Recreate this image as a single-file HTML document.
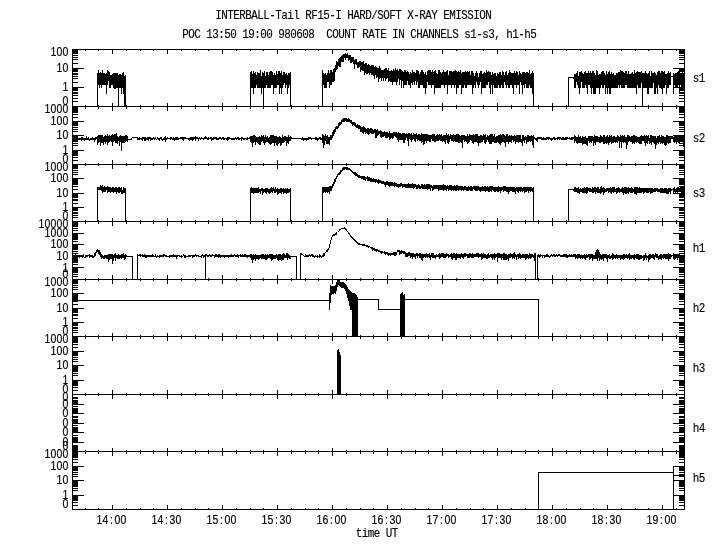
<!DOCTYPE html>
<html lang="en"><head><meta charset="utf-8">
<title>INTERBALL-Tail RF15-I HARD/SOFT X-RAY EMISSION</title>
<style>
html,body{margin:0;padding:0;background:#fff;}
body{width:720px;height:550px;overflow:hidden;}
svg{display:block;}
text{font-family:"Liberation Mono", "DejaVu Sans Mono", monospace;font-size:13.66px;fill:#000;stroke:#000;stroke-width:0.15px;text-anchor:middle;}
text.d{font-family:"Liberation Sans","DejaVu Sans",sans-serif;font-size:13.1px;stroke-width:0.18px;}
.tx{filter:grayscale(1);}
.ln path{fill:none;stroke:#000;stroke-width:1;shape-rendering:crispEdges;stroke-linejoin:miter;}
.fl{fill:#000;stroke:none;shape-rendering:crispEdges;}
</style></head><body>
<svg width="720" height="550" viewBox="0 0 720 550">
<rect x="0" y="0" width="720" height="550" fill="#fff"/>
<g class="ln">
<path d="M72.0 49.5H685.0M72.0 106.5H685.0M72.0 164.5H685.0M72.0 221.5H685.0M72.0 279.5H685.0M72.0 336.5H685.0M72.0 394.5H685.0M72.0 451.5H685.0M72.0 509.5H685.0M72.5 49.0V510.0M684.5 49.0V510.0M112.5 49.0V54.0M167.5 49.0V54.0M222.5 49.0V54.0M277.5 49.0V54.0M332.5 49.0V54.0M387.5 49.0V54.0M442.5 49.0V54.0M497.5 49.0V54.0M552.5 49.0V54.0M607.5 49.0V54.0M662.5 49.0V54.0M85.5 49.0V51.0M98.5 49.0V51.0M126.5 49.0V51.0M140.5 49.0V51.0M153.5 49.0V51.0M181.5 49.0V51.0M195.5 49.0V51.0M208.5 49.0V51.0M236.5 49.0V51.0M250.5 49.0V51.0M263.5 49.0V51.0M291.5 49.0V51.0M305.5 49.0V51.0M318.5 49.0V51.0M346.5 49.0V51.0M360.5 49.0V51.0M373.5 49.0V51.0M401.5 49.0V51.0M415.5 49.0V51.0M428.5 49.0V51.0M456.5 49.0V51.0M470.5 49.0V51.0M483.5 49.0V51.0M511.5 49.0V51.0M525.5 49.0V51.0M538.5 49.0V51.0M566.5 49.0V51.0M580.5 49.0V51.0M593.5 49.0V51.0M621.5 49.0V51.0M635.5 49.0V51.0M648.5 49.0V51.0M676.5 49.0V51.0M112.5 103.0V111.0M167.5 103.0V111.0M222.5 103.0V111.0M277.5 103.0V111.0M332.5 103.0V111.0M387.5 103.0V111.0M442.5 103.0V111.0M497.5 103.0V111.0M552.5 103.0V111.0M607.5 103.0V111.0M662.5 103.0V111.0M85.5 105.0V109.0M98.5 105.0V109.0M126.5 105.0V109.0M140.5 105.0V109.0M153.5 105.0V109.0M181.5 105.0V109.0M195.5 105.0V109.0M208.5 105.0V109.0M236.5 105.0V109.0M250.5 105.0V109.0M263.5 105.0V109.0M291.5 105.0V109.0M305.5 105.0V109.0M318.5 105.0V109.0M346.5 105.0V109.0M360.5 105.0V109.0M373.5 105.0V109.0M401.5 105.0V109.0M415.5 105.0V109.0M428.5 105.0V109.0M456.5 105.0V109.0M470.5 105.0V109.0M483.5 105.0V109.0M511.5 105.0V109.0M525.5 105.0V109.0M538.5 105.0V109.0M566.5 105.0V109.0M580.5 105.0V109.0M593.5 105.0V109.0M621.5 105.0V109.0M635.5 105.0V109.0M648.5 105.0V109.0M676.5 105.0V109.0M112.5 160.0V169.0M167.5 160.0V169.0M222.5 160.0V169.0M277.5 160.0V169.0M332.5 160.0V169.0M387.5 160.0V169.0M442.5 160.0V169.0M497.5 160.0V169.0M552.5 160.0V169.0M607.5 160.0V169.0M662.5 160.0V169.0M85.5 163.0V166.0M98.5 163.0V166.0M126.5 163.0V166.0M140.5 163.0V166.0M153.5 163.0V166.0M181.5 163.0V166.0M195.5 163.0V166.0M208.5 163.0V166.0M236.5 163.0V166.0M250.5 163.0V166.0M263.5 163.0V166.0M291.5 163.0V166.0M305.5 163.0V166.0M318.5 163.0V166.0M346.5 163.0V166.0M360.5 163.0V166.0M373.5 163.0V166.0M401.5 163.0V166.0M415.5 163.0V166.0M428.5 163.0V166.0M456.5 163.0V166.0M470.5 163.0V166.0M483.5 163.0V166.0M511.5 163.0V166.0M525.5 163.0V166.0M538.5 163.0V166.0M566.5 163.0V166.0M580.5 163.0V166.0M593.5 163.0V166.0M621.5 163.0V166.0M635.5 163.0V166.0M648.5 163.0V166.0M676.5 163.0V166.0M112.5 218.0V226.0M167.5 218.0V226.0M222.5 218.0V226.0M277.5 218.0V226.0M332.5 218.0V226.0M387.5 218.0V226.0M442.5 218.0V226.0M497.5 218.0V226.0M552.5 218.0V226.0M607.5 218.0V226.0M662.5 218.0V226.0M85.5 220.0V224.0M98.5 220.0V224.0M126.5 220.0V224.0M140.5 220.0V224.0M153.5 220.0V224.0M181.5 220.0V224.0M195.5 220.0V224.0M208.5 220.0V224.0M236.5 220.0V224.0M250.5 220.0V224.0M263.5 220.0V224.0M291.5 220.0V224.0M305.5 220.0V224.0M318.5 220.0V224.0M346.5 220.0V224.0M360.5 220.0V224.0M373.5 220.0V224.0M401.5 220.0V224.0M415.5 220.0V224.0M428.5 220.0V224.0M456.5 220.0V224.0M470.5 220.0V224.0M483.5 220.0V224.0M511.5 220.0V224.0M525.5 220.0V224.0M538.5 220.0V224.0M566.5 220.0V224.0M580.5 220.0V224.0M593.5 220.0V224.0M621.5 220.0V224.0M635.5 220.0V224.0M648.5 220.0V224.0M676.5 220.0V224.0M112.5 275.0V284.0M167.5 275.0V284.0M222.5 275.0V284.0M277.5 275.0V284.0M332.5 275.0V284.0M387.5 275.0V284.0M442.5 275.0V284.0M497.5 275.0V284.0M552.5 275.0V284.0M607.5 275.0V284.0M662.5 275.0V284.0M85.5 278.0V281.0M98.5 278.0V281.0M126.5 278.0V281.0M140.5 278.0V281.0M153.5 278.0V281.0M181.5 278.0V281.0M195.5 278.0V281.0M208.5 278.0V281.0M236.5 278.0V281.0M250.5 278.0V281.0M263.5 278.0V281.0M291.5 278.0V281.0M305.5 278.0V281.0M318.5 278.0V281.0M346.5 278.0V281.0M360.5 278.0V281.0M373.5 278.0V281.0M401.5 278.0V281.0M415.5 278.0V281.0M428.5 278.0V281.0M456.5 278.0V281.0M470.5 278.0V281.0M483.5 278.0V281.0M511.5 278.0V281.0M525.5 278.0V281.0M538.5 278.0V281.0M566.5 278.0V281.0M580.5 278.0V281.0M593.5 278.0V281.0M621.5 278.0V281.0M635.5 278.0V281.0M648.5 278.0V281.0M676.5 278.0V281.0M112.5 333.0V341.0M167.5 333.0V341.0M222.5 333.0V341.0M277.5 333.0V341.0M332.5 333.0V341.0M387.5 333.0V341.0M442.5 333.0V341.0M497.5 333.0V341.0M552.5 333.0V341.0M607.5 333.0V341.0M662.5 333.0V341.0M85.5 335.0V339.0M98.5 335.0V339.0M126.5 335.0V339.0M140.5 335.0V339.0M153.5 335.0V339.0M181.5 335.0V339.0M195.5 335.0V339.0M208.5 335.0V339.0M236.5 335.0V339.0M250.5 335.0V339.0M263.5 335.0V339.0M291.5 335.0V339.0M305.5 335.0V339.0M318.5 335.0V339.0M346.5 335.0V339.0M360.5 335.0V339.0M373.5 335.0V339.0M401.5 335.0V339.0M415.5 335.0V339.0M428.5 335.0V339.0M456.5 335.0V339.0M470.5 335.0V339.0M483.5 335.0V339.0M511.5 335.0V339.0M525.5 335.0V339.0M538.5 335.0V339.0M566.5 335.0V339.0M580.5 335.0V339.0M593.5 335.0V339.0M621.5 335.0V339.0M635.5 335.0V339.0M648.5 335.0V339.0M676.5 335.0V339.0M112.5 390.0V399.0M167.5 390.0V399.0M222.5 390.0V399.0M277.5 390.0V399.0M332.5 390.0V399.0M387.5 390.0V399.0M442.5 390.0V399.0M497.5 390.0V399.0M552.5 390.0V399.0M607.5 390.0V399.0M662.5 390.0V399.0M85.5 393.0V396.0M98.5 393.0V396.0M126.5 393.0V396.0M140.5 393.0V396.0M153.5 393.0V396.0M181.5 393.0V396.0M195.5 393.0V396.0M208.5 393.0V396.0M236.5 393.0V396.0M250.5 393.0V396.0M263.5 393.0V396.0M291.5 393.0V396.0M305.5 393.0V396.0M318.5 393.0V396.0M346.5 393.0V396.0M360.5 393.0V396.0M373.5 393.0V396.0M401.5 393.0V396.0M415.5 393.0V396.0M428.5 393.0V396.0M456.5 393.0V396.0M470.5 393.0V396.0M483.5 393.0V396.0M511.5 393.0V396.0M525.5 393.0V396.0M538.5 393.0V396.0M566.5 393.0V396.0M580.5 393.0V396.0M593.5 393.0V396.0M621.5 393.0V396.0M635.5 393.0V396.0M648.5 393.0V396.0M676.5 393.0V396.0M112.5 448.0V456.0M167.5 448.0V456.0M222.5 448.0V456.0M277.5 448.0V456.0M332.5 448.0V456.0M387.5 448.0V456.0M442.5 448.0V456.0M497.5 448.0V456.0M552.5 448.0V456.0M607.5 448.0V456.0M662.5 448.0V456.0M85.5 450.0V454.0M98.5 450.0V454.0M126.5 450.0V454.0M140.5 450.0V454.0M153.5 450.0V454.0M181.5 450.0V454.0M195.5 450.0V454.0M208.5 450.0V454.0M236.5 450.0V454.0M250.5 450.0V454.0M263.5 450.0V454.0M291.5 450.0V454.0M305.5 450.0V454.0M318.5 450.0V454.0M346.5 450.0V454.0M360.5 450.0V454.0M373.5 450.0V454.0M401.5 450.0V454.0M415.5 450.0V454.0M428.5 450.0V454.0M456.5 450.0V454.0M470.5 450.0V454.0M483.5 450.0V454.0M511.5 450.0V454.0M525.5 450.0V454.0M538.5 450.0V454.0M566.5 450.0V454.0M580.5 450.0V454.0M593.5 450.0V454.0M621.5 450.0V454.0M635.5 450.0V454.0M648.5 450.0V454.0M676.5 450.0V454.0M112.5 505.0V510.0M167.5 505.0V510.0M222.5 505.0V510.0M277.5 505.0V510.0M332.5 505.0V510.0M387.5 505.0V510.0M442.5 505.0V510.0M497.5 505.0V510.0M552.5 505.0V510.0M607.5 505.0V510.0M662.5 505.0V510.0M85.5 508.0V510.0M98.5 508.0V510.0M126.5 508.0V510.0M140.5 508.0V510.0M153.5 508.0V510.0M181.5 508.0V510.0M195.5 508.0V510.0M208.5 508.0V510.0M236.5 508.0V510.0M250.5 508.0V510.0M263.5 508.0V510.0M291.5 508.0V510.0M305.5 508.0V510.0M318.5 508.0V510.0M346.5 508.0V510.0M360.5 508.0V510.0M373.5 508.0V510.0M401.5 508.0V510.0M415.5 508.0V510.0M428.5 508.0V510.0M456.5 508.0V510.0M470.5 508.0V510.0M483.5 508.0V510.0M511.5 508.0V510.0M525.5 508.0V510.0M538.5 508.0V510.0M566.5 508.0V510.0M580.5 508.0V510.0M593.5 508.0V510.0M621.5 508.0V510.0M635.5 508.0V510.0M648.5 508.0V510.0M676.5 508.0V510.0M72.5 101.5H78.0M684.5 101.5H679.0M72.5 98.5H78.0M684.5 98.5H679.0M72.5 95.5H78.0M684.5 95.5H679.0M72.5 93.5H78.0M684.5 93.5H679.0M72.5 92.5H78.0M684.5 92.5H679.0M72.5 90.5H78.0M684.5 90.5H679.0M72.5 89.5H78.0M684.5 89.5H679.0M72.5 88.5H78.0M684.5 88.5H679.0M72.5 87.5H84.0M684.5 87.5H673.0M72.5 82.5H78.0M684.5 82.5H679.0M72.5 78.5H78.0M684.5 78.5H679.0M72.5 76.5H78.0M684.5 76.5H679.0M72.5 74.5H78.0M684.5 74.5H679.0M72.5 73.5H78.0M684.5 73.5H679.0M72.5 71.5H78.0M684.5 71.5H679.0M72.5 70.5H78.0M684.5 70.5H679.0M72.5 69.5H78.0M684.5 69.5H679.0M72.5 68.5H84.0M684.5 68.5H673.0M72.5 63.5H78.0M684.5 63.5H679.0M72.5 59.5H78.0M684.5 59.5H679.0M72.5 57.5H78.0M684.5 57.5H679.0M72.5 55.5H78.0M684.5 55.5H679.0M72.5 53.5H78.0M684.5 53.5H679.0M72.5 52.5H78.0M684.5 52.5H679.0M72.5 51.5H78.0M684.5 51.5H679.0M72.5 50.5H78.0M684.5 50.5H679.0M72.5 160.5H78.0M684.5 160.5H679.0M72.5 157.5H78.0M684.5 157.5H679.0M72.5 155.5H78.0M684.5 155.5H679.0M72.5 154.5H78.0M684.5 154.5H679.0M72.5 153.5H78.0M684.5 153.5H679.0M72.5 152.5H78.0M684.5 152.5H679.0M72.5 151.5H78.0M684.5 151.5H679.0M72.5 150.5H78.0M684.5 150.5H679.0M72.5 150.5H84.0M684.5 150.5H673.0M72.5 145.5H78.0M684.5 145.5H679.0M72.5 143.5H78.0M684.5 143.5H679.0M72.5 141.5H78.0M684.5 141.5H679.0M72.5 140.5H78.0M684.5 140.5H679.0M72.5 139.5H78.0M684.5 139.5H679.0M72.5 138.5H78.0M684.5 138.5H679.0M72.5 137.5H78.0M684.5 137.5H679.0M72.5 136.5H78.0M684.5 136.5H679.0M72.5 135.5H84.0M684.5 135.5H673.0M72.5 131.5H78.0M684.5 131.5H679.0M72.5 129.5H78.0M684.5 129.5H679.0M72.5 127.5H78.0M684.5 127.5H679.0M72.5 125.5H78.0M684.5 125.5H679.0M72.5 124.5H78.0M684.5 124.5H679.0M72.5 123.5H78.0M684.5 123.5H679.0M72.5 122.5H78.0M684.5 122.5H679.0M72.5 122.5H78.0M684.5 122.5H679.0M72.5 121.5H84.0M684.5 121.5H673.0M72.5 117.5H78.0M684.5 117.5H679.0M72.5 114.5H78.0M684.5 114.5H679.0M72.5 112.5H78.0M684.5 112.5H679.0M72.5 111.5H78.0M684.5 111.5H679.0M72.5 110.5H78.0M684.5 110.5H679.0M72.5 109.5H78.0M684.5 109.5H679.0M72.5 108.5H78.0M684.5 108.5H679.0M72.5 107.5H78.0M684.5 107.5H679.0M72.5 217.5H78.0M684.5 217.5H679.0M72.5 215.5H78.0M684.5 215.5H679.0M72.5 213.5H78.0M684.5 213.5H679.0M72.5 212.5H78.0M684.5 212.5H679.0M72.5 210.5H78.0M684.5 210.5H679.0M72.5 210.5H78.0M684.5 210.5H679.0M72.5 209.5H78.0M684.5 209.5H679.0M72.5 208.5H78.0M684.5 208.5H679.0M72.5 207.5H84.0M684.5 207.5H673.0M72.5 203.5H78.0M684.5 203.5H679.0M72.5 200.5H78.0M684.5 200.5H679.0M72.5 199.5H78.0M684.5 199.5H679.0M72.5 197.5H78.0M684.5 197.5H679.0M72.5 196.5H78.0M684.5 196.5H679.0M72.5 195.5H78.0M684.5 195.5H679.0M72.5 194.5H78.0M684.5 194.5H679.0M72.5 194.5H78.0M684.5 194.5H679.0M72.5 193.5H84.0M684.5 193.5H673.0M72.5 189.5H78.0M684.5 189.5H679.0M72.5 186.5H78.0M684.5 186.5H679.0M72.5 184.5H78.0M684.5 184.5H679.0M72.5 183.5H78.0M684.5 183.5H679.0M72.5 182.5H78.0M684.5 182.5H679.0M72.5 181.5H78.0M684.5 181.5H679.0M72.5 180.5H78.0M684.5 180.5H679.0M72.5 179.5H78.0M684.5 179.5H679.0M72.5 178.5H84.0M684.5 178.5H673.0M72.5 174.5H78.0M684.5 174.5H679.0M72.5 172.5H78.0M684.5 172.5H679.0M72.5 170.5H78.0M684.5 170.5H679.0M72.5 168.5H78.0M684.5 168.5H679.0M72.5 167.5H78.0M684.5 167.5H679.0M72.5 166.5H78.0M684.5 166.5H679.0M72.5 166.5H78.0M684.5 166.5H679.0M72.5 165.5H78.0M684.5 165.5H679.0M72.5 276.5H78.0M684.5 276.5H679.0M72.5 274.5H78.0M684.5 274.5H679.0M72.5 272.5H78.0M684.5 272.5H679.0M72.5 271.5H78.0M684.5 271.5H679.0M72.5 270.5H78.0M684.5 270.5H679.0M72.5 269.5H78.0M684.5 269.5H679.0M72.5 269.5H78.0M684.5 269.5H679.0M72.5 268.5H78.0M684.5 268.5H679.0M72.5 267.5H84.0M684.5 267.5H673.0M72.5 264.5H78.0M684.5 264.5H679.0M72.5 262.5H78.0M684.5 262.5H679.0M72.5 261.5H78.0M684.5 261.5H679.0M72.5 260.5H78.0M684.5 260.5H679.0M72.5 259.5H78.0M684.5 259.5H679.0M72.5 258.5H78.0M684.5 258.5H679.0M72.5 257.5H78.0M684.5 257.5H679.0M72.5 257.5H78.0M684.5 257.5H679.0M72.5 256.5H84.0M684.5 256.5H673.0M72.5 253.5H78.0M684.5 253.5H679.0M72.5 251.5H78.0M684.5 251.5H679.0M72.5 249.5H78.0M684.5 249.5H679.0M72.5 248.5H78.0M684.5 248.5H679.0M72.5 247.5H78.0M684.5 247.5H679.0M72.5 246.5H78.0M684.5 246.5H679.0M72.5 246.5H78.0M684.5 246.5H679.0M72.5 245.5H78.0M684.5 245.5H679.0M72.5 244.5H84.0M684.5 244.5H673.0M72.5 241.5H78.0M684.5 241.5H679.0M72.5 239.5H78.0M684.5 239.5H679.0M72.5 238.5H78.0M684.5 238.5H679.0M72.5 237.5H78.0M684.5 237.5H679.0M72.5 236.5H78.0M684.5 236.5H679.0M72.5 235.5H78.0M684.5 235.5H679.0M72.5 234.5H78.0M684.5 234.5H679.0M72.5 234.5H78.0M684.5 234.5H679.0M72.5 233.5H84.0M684.5 233.5H673.0M72.5 230.5H78.0M684.5 230.5H679.0M72.5 228.5H78.0M684.5 228.5H679.0M72.5 226.5H78.0M684.5 226.5H679.0M72.5 225.5H78.0M684.5 225.5H679.0M72.5 224.5H78.0M684.5 224.5H679.0M72.5 223.5H78.0M684.5 223.5H679.0M72.5 223.5H78.0M684.5 223.5H679.0M72.5 222.5H78.0M684.5 222.5H679.0M72.5 332.5H78.0M684.5 332.5H679.0M72.5 330.5H78.0M684.5 330.5H679.0M72.5 328.5H78.0M684.5 328.5H679.0M72.5 327.5H78.0M684.5 327.5H679.0M72.5 325.5H78.0M684.5 325.5H679.0M72.5 325.5H78.0M684.5 325.5H679.0M72.5 324.5H78.0M684.5 324.5H679.0M72.5 323.5H78.0M684.5 323.5H679.0M72.5 322.5H84.0M684.5 322.5H673.0M72.5 318.5H78.0M684.5 318.5H679.0M72.5 315.5H78.0M684.5 315.5H679.0M72.5 314.5H78.0M684.5 314.5H679.0M72.5 312.5H78.0M684.5 312.5H679.0M72.5 311.5H78.0M684.5 311.5H679.0M72.5 310.5H78.0M684.5 310.5H679.0M72.5 309.5H78.0M684.5 309.5H679.0M72.5 309.5H78.0M684.5 309.5H679.0M72.5 308.5H84.0M684.5 308.5H673.0M72.5 304.5H78.0M684.5 304.5H679.0M72.5 301.5H78.0M684.5 301.5H679.0M72.5 299.5H78.0M684.5 299.5H679.0M72.5 298.5H78.0M684.5 298.5H679.0M72.5 297.5H78.0M684.5 297.5H679.0M72.5 296.5H78.0M684.5 296.5H679.0M72.5 295.5H78.0M684.5 295.5H679.0M72.5 294.5H78.0M684.5 294.5H679.0M72.5 293.5H84.0M684.5 293.5H673.0M72.5 289.5H78.0M684.5 289.5H679.0M72.5 287.5H78.0M684.5 287.5H679.0M72.5 285.5H78.0M684.5 285.5H679.0M72.5 283.5H78.0M684.5 283.5H679.0M72.5 282.5H78.0M684.5 282.5H679.0M72.5 281.5H78.0M684.5 281.5H679.0M72.5 281.5H78.0M684.5 281.5H679.0M72.5 280.5H78.0M684.5 280.5H679.0M72.5 390.5H78.0M684.5 390.5H679.0M72.5 387.5H78.0M684.5 387.5H679.0M72.5 385.5H78.0M684.5 385.5H679.0M72.5 384.5H78.0M684.5 384.5H679.0M72.5 383.5H78.0M684.5 383.5H679.0M72.5 382.5H78.0M684.5 382.5H679.0M72.5 381.5H78.0M684.5 381.5H679.0M72.5 380.5H78.0M684.5 380.5H679.0M72.5 380.5H84.0M684.5 380.5H673.0M72.5 375.5H78.0M684.5 375.5H679.0M72.5 373.5H78.0M684.5 373.5H679.0M72.5 371.5H78.0M684.5 371.5H679.0M72.5 370.5H78.0M684.5 370.5H679.0M72.5 369.5H78.0M684.5 369.5H679.0M72.5 368.5H78.0M684.5 368.5H679.0M72.5 367.5H78.0M684.5 367.5H679.0M72.5 366.5H78.0M684.5 366.5H679.0M72.5 365.5H84.0M684.5 365.5H673.0M72.5 361.5H78.0M684.5 361.5H679.0M72.5 359.5H78.0M684.5 359.5H679.0M72.5 357.5H78.0M684.5 357.5H679.0M72.5 355.5H78.0M684.5 355.5H679.0M72.5 354.5H78.0M684.5 354.5H679.0M72.5 353.5H78.0M684.5 353.5H679.0M72.5 352.5H78.0M684.5 352.5H679.0M72.5 352.5H78.0M684.5 352.5H679.0M72.5 351.5H84.0M684.5 351.5H673.0M72.5 347.5H78.0M684.5 347.5H679.0M72.5 344.5H78.0M684.5 344.5H679.0M72.5 342.5H78.0M684.5 342.5H679.0M72.5 341.5H78.0M684.5 341.5H679.0M72.5 340.5H78.0M684.5 340.5H679.0M72.5 339.5H78.0M684.5 339.5H679.0M72.5 338.5H78.0M684.5 338.5H679.0M72.5 337.5H78.0M684.5 337.5H679.0M72.5 445.5H78.0M684.5 445.5H679.0M72.5 446.5H78.0M684.5 446.5H679.0M72.5 447.5H78.0M684.5 447.5H679.0M72.5 448.5H78.0M684.5 448.5H679.0M72.5 449.5H78.0M684.5 449.5H679.0M72.5 450.5H78.0M684.5 450.5H679.0M72.5 450.5H78.0M684.5 450.5H679.0M72.5 451.5H78.0M684.5 451.5H679.0M72.5 442.5H84.0M684.5 442.5H673.0M72.5 435.5H78.0M684.5 435.5H679.0M72.5 437.5H78.0M684.5 437.5H679.0M72.5 438.5H78.0M684.5 438.5H679.0M72.5 439.5H78.0M684.5 439.5H679.0M72.5 440.5H78.0M684.5 440.5H679.0M72.5 440.5H78.0M684.5 440.5H679.0M72.5 441.5H78.0M684.5 441.5H679.0M72.5 441.5H78.0M684.5 441.5H679.0M72.5 432.5H84.0M684.5 432.5H673.0M72.5 425.5H78.0M684.5 425.5H679.0M72.5 427.5H78.0M684.5 427.5H679.0M72.5 428.5H78.0M684.5 428.5H679.0M72.5 429.5H78.0M684.5 429.5H679.0M72.5 430.5H78.0M684.5 430.5H679.0M72.5 431.5H78.0M684.5 431.5H679.0M72.5 431.5H78.0M684.5 431.5H679.0M72.5 432.5H78.0M684.5 432.5H679.0M72.5 423.5H84.0M684.5 423.5H673.0M72.5 416.5H78.0M684.5 416.5H679.0M72.5 417.5H78.0M684.5 417.5H679.0M72.5 419.5H78.0M684.5 419.5H679.0M72.5 420.5H78.0M684.5 420.5H679.0M72.5 420.5H78.0M684.5 420.5H679.0M72.5 421.5H78.0M684.5 421.5H679.0M72.5 422.5H78.0M684.5 422.5H679.0M72.5 422.5H78.0M684.5 422.5H679.0M72.5 413.5H84.0M684.5 413.5H673.0M72.5 406.5H78.0M684.5 406.5H679.0M72.5 408.5H78.0M684.5 408.5H679.0M72.5 409.5H78.0M684.5 409.5H679.0M72.5 410.5H78.0M684.5 410.5H679.0M72.5 411.5H78.0M684.5 411.5H679.0M72.5 411.5H78.0M684.5 411.5H679.0M72.5 412.5H78.0M684.5 412.5H679.0M72.5 412.5H78.0M684.5 412.5H679.0M72.5 404.5H84.0M684.5 404.5H673.0M72.5 397.5H78.0M684.5 397.5H679.0M72.5 398.5H78.0M684.5 398.5H679.0M72.5 400.5H78.0M684.5 400.5H679.0M72.5 400.5H78.0M684.5 400.5H679.0M72.5 401.5H78.0M684.5 401.5H679.0M72.5 402.5H78.0M684.5 402.5H679.0M72.5 402.5H78.0M684.5 402.5H679.0M72.5 403.5H78.0M684.5 403.5H679.0M72.5 505.5H78.0M684.5 505.5H679.0M72.5 502.5H78.0M684.5 502.5H679.0M72.5 500.5H78.0M684.5 500.5H679.0M72.5 499.5H78.0M684.5 499.5H679.0M72.5 498.5H78.0M684.5 498.5H679.0M72.5 497.5H78.0M684.5 497.5H679.0M72.5 496.5H78.0M684.5 496.5H679.0M72.5 495.5H78.0M684.5 495.5H679.0M72.5 495.5H84.0M684.5 495.5H673.0M72.5 490.5H78.0M684.5 490.5H679.0M72.5 488.5H78.0M684.5 488.5H679.0M72.5 486.5H78.0M684.5 486.5H679.0M72.5 485.5H78.0M684.5 485.5H679.0M72.5 484.5H78.0M684.5 484.5H679.0M72.5 483.5H78.0M684.5 483.5H679.0M72.5 482.5H78.0M684.5 482.5H679.0M72.5 481.5H78.0M684.5 481.5H679.0M72.5 480.5H84.0M684.5 480.5H673.0M72.5 476.5H78.0M684.5 476.5H679.0M72.5 474.5H78.0M684.5 474.5H679.0M72.5 472.5H78.0M684.5 472.5H679.0M72.5 470.5H78.0M684.5 470.5H679.0M72.5 469.5H78.0M684.5 469.5H679.0M72.5 468.5H78.0M684.5 468.5H679.0M72.5 467.5H78.0M684.5 467.5H679.0M72.5 467.5H78.0M684.5 467.5H679.0M72.5 466.5H84.0M684.5 466.5H673.0M72.5 462.5H78.0M684.5 462.5H679.0M72.5 459.5H78.0M684.5 459.5H679.0M72.5 457.5H78.0M684.5 457.5H679.0M72.5 456.5H78.0M684.5 456.5H679.0M72.5 455.5H78.0M684.5 455.5H679.0M72.5 454.5H78.0M684.5 454.5H679.0M72.5 453.5H78.0M684.5 453.5H679.0M72.5 452.5H78.0M684.5 452.5H679.0"/>
<path d="M73.5 106.5L74.5 106.5L75.5 106.5L76.5 106.5L77.5 106.5L78.5 106.5L79.5 106.5L80.5 106.5L81.5 106.5L82.5 106.5L83.5 106.5L84.5 106.5L85.5 106.5L86.5 106.5L87.5 106.5L88.5 106.5L89.5 106.5L90.5 106.5L91.5 106.5L92.5 106.5L93.5 106.5L94.5 106.5L95.5 106.5L96.5 106.5L97.5 106.5V72.5V106.5V80.5L98.5 74V70V84.5V82L99.5 77.5V73V88V80.5L100.5 77.5V71.5V84.5L101.5 74.5V73V88V75.5L102.5 70V84.5V80.5L103.5 80.5V73V84.5V82L104.5 76.5V73V84.5V79L105.5 75.5V74V84.5V74L106.5 76.5V72.5V93.5L107.5 76.5V70V84.5V70L108.5 72V80.5V79L109.5 72V88V80.5L110.5 79V74.5V88V80.5L111.5 79V74.5V84.5V79L112.5 74V84.5V75.5L113.5 82V72.5V88V77.5L114.5 79V72.5V88L115.5 88V72.5V88V77.5L116.5 88V72.5V88V82L117.5 88V73V88V76.5L118.5 79V74.5V106.5V79L119.5 77.5V74V88V82L120.5 77.5V74V88V74.5L121.5 80.5V74.5V93.5V80.5L122.5 77.5V72.5V88V77.5L123.5 77.5V71.5V93.5L124.5 88V75.5V106.5V84.5L125.5 80.5V74.5V106.5L126.5 106.5L127.5 106.5L128.5 106.5L129.5 106.5L130.5 106.5L131.5 106.5L132.5 106.5L133.5 106.5L134.5 106.5L135.5 106.5L136.5 106.5L137.5 106.5L138.5 106.5L139.5 106.5L140.5 106.5L141.5 106.5L142.5 106.5L143.5 106.5L144.5 106.5L145.5 106.5L146.5 106.5L147.5 106.5L148.5 106.5L149.5 106.5L150.5 106.5L151.5 106.5L152.5 106.5L153.5 106.5L154.5 106.5L155.5 106.5L156.5 106.5L157.5 106.5L158.5 106.5L159.5 106.5L160.5 106.5L161.5 106.5L162.5 106.5L163.5 106.5L164.5 106.5L165.5 106.5L166.5 106.5L167.5 106.5L168.5 106.5L169.5 106.5L170.5 106.5L171.5 106.5L172.5 106.5L173.5 106.5L174.5 106.5L175.5 106.5L176.5 106.5L177.5 106.5L178.5 106.5L179.5 106.5L180.5 106.5L181.5 106.5L182.5 106.5L183.5 106.5L184.5 106.5L185.5 106.5L186.5 106.5L187.5 106.5L188.5 106.5L189.5 106.5L190.5 106.5L191.5 106.5L192.5 106.5L193.5 106.5L194.5 106.5L195.5 106.5L196.5 106.5L197.5 106.5L198.5 106.5L199.5 106.5L200.5 106.5L201.5 106.5L202.5 106.5L203.5 106.5L204.5 106.5L205.5 106.5L206.5 106.5L207.5 106.5L208.5 106.5L209.5 106.5L210.5 106.5L211.5 106.5L212.5 106.5L213.5 106.5L214.5 106.5L215.5 106.5L216.5 106.5L217.5 106.5L218.5 106.5L219.5 106.5L220.5 106.5L221.5 106.5L222.5 106.5L223.5 106.5L224.5 106.5L225.5 106.5L226.5 106.5L227.5 106.5L228.5 106.5L229.5 106.5L230.5 106.5L231.5 106.5L232.5 106.5L233.5 106.5L234.5 106.5L235.5 106.5L236.5 106.5L237.5 106.5L238.5 106.5L239.5 106.5L240.5 106.5L241.5 106.5L242.5 106.5L243.5 106.5L244.5 106.5L245.5 106.5L246.5 106.5L247.5 106.5L248.5 106.5L249.5 106.5L250.5 106.5V71.5V106.5V79L251.5 84.5V70.5V88V77.5L252.5 76.5V74V88V79L253.5 93.5V70.5V93.5V84.5L254.5 88V73V88V80.5L255.5 73V72V88V79L256.5 82V74.5V84.5V76.5L257.5 84.5V71.5V88V72.5L258.5 88V72.5V88V79L259.5 77.5V72.5V88V82L260.5 76.5V70.5V88V70.5L261.5 84.5V75.5V93.5V79L262.5 88V72V88V74L263.5 74V72.5V106.5V84.5L264.5 80.5V70.5V88V79L265.5 76.5V75.5V88V84.5L266.5 72V84.5V77.5L267.5 79V71.5V88V77.5L268.5 79V74.5V88V82L269.5 74V72V88V82L270.5 77.5V70.5V88V80.5L271.5 80.5V70.5V84.5V82L272.5 74.5V71.5V84.5V80.5L273.5 79V74.5V93.5V77.5L274.5 79V72.5V88V79L275.5 82V74.5V88V75.5L276.5 77.5V70.5V88L277.5 74.5V84.5V77.5L278.5 76.5V70.5V84.5V77.5L279.5 73V70.5V93.5V77.5L280.5 84.5V73V88V76.5L281.5 75.5V70.5V93.5V84.5L282.5 75.5V74.5V88V76.5L283.5 74.5V71.5V84.5L284.5 80.5V72V82V72.5L285.5 84.5V74V88L286.5 75.5V72.5V84.5L287.5 79V74.5V93.5V88L288.5 82V73V88V77.5L289.5 77.5V72.5V84.5V80.5L290.5 75.5V72V106.5L291.5 106.5L292.5 106.5L293.5 106.5L294.5 106.5L295.5 106.5L296.5 106.5L297.5 106.5L298.5 106.5L299.5 106.5L300.5 106.5L301.5 106.5L302.5 106.5L303.5 106.5L304.5 106.5L305.5 106.5L306.5 106.5L307.5 106.5L308.5 106.5L309.5 106.5L310.5 106.5L311.5 106.5L312.5 106.5L313.5 106.5L314.5 106.5L315.5 106.5L316.5 106.5L317.5 106.5L318.5 106.5L319.5 106.5L320.5 106.5L321.5 106.5L322.5 106.5V70V106.5V88L323.5 82V72.5V84.5V79L324.5 80.5V74V88V79L325.5 82V73V88V76.5L326.5 76.5V74.5V88V82L327.5 77.5V72.5V82V79L328.5 80.5V70V82V72L329.5 74.5V73V88V75.5L330.5 74.5V70V84.5V79L331.5 79V70V84.5V75.5L332.5 79V72V82V72.5L333.5 72.5V69V82V79L334.5 80.5V67.5V80.5V74.5L335.5 66.5V64.5V71.5V69L336.5 64V62V70V62L337.5 62.5V62V69V65L338.5 64V59.5V65.5V59.5L339.5 60.5V58V66.5V61L340.5 66.5V56.5V66.5V58.5L341.5 59.5V55.5V61.5V58.5L342.5 56V54.5V61.5V60.5L343.5 55.5V53.5V62V56.5L344.5 54.5V54V58V55L345.5 53.5V53V59.5V54L346.5 55V54V57.5V55L347.5 56V53V57.5V54L348.5 56V54.5V60.5V56L349.5 56V55V59.5V56.5L350.5 57.5V55V62.5V59L351.5 58V56.5V63V57.5L352.5 58.5V56.5V61.5V58L353.5 58.5V57V63.5V57L354.5 64.5V59.5V69V60.5L355.5 60V58.5V64V63.5L356.5 64V59V65V62.5L357.5 64V61.5V68V65.5L358.5 62.5V61.5V67.5V62.5L359.5 66V60.5V66.5V64L360.5 65.5V61V71.5V64L361.5 64.5V61.5V70V68.5L362.5 65V62.5V70.5V62.5L363.5 62V70L364.5 71.5V64V74.5V68.5L365.5 69V63V73V68.5L366.5 66.5V63V74V63L367.5 67.5V65.5V74V66.5L368.5 72V63.5V73V70.5L369.5 66.5V65V74.5L370.5 70V66V72.5V68L371.5 72.5V64.5V74.5V68L372.5 67.5V65V74.5V69L373.5 72.5V65V75.5V70L374.5 69V66.5V79V72L375.5 67V65.5V74.5V68L376.5 69V67V77.5V75.5L377.5 72V68V76.5V68L378.5 70.5V67.5V82V72.5L379.5 79V66V79V70L380.5 70V68V77.5L381.5 72V69.5V80.5V77.5L382.5 74V69.5V77.5V74.5L383.5 80.5V69.5V80.5V75.5L384.5 74.5V69V77.5V70L385.5 74.5V68V80.5V72L386.5 79V67.5V79L387.5 72V70V77.5V75.5L388.5 72.5V67.5V82V79L389.5 72.5V70.5V80.5V74L390.5 76.5V70.5V82V75.5L391.5 76.5V70V82L392.5 73V70.5V84.5V71.5L393.5 82V69V82V72L394.5 74.5V70V82V70L395.5 75.5V68V82V74.5L396.5 76.5V69.5V84.5V70L397.5 79V69V82V70L398.5 76.5V70.5V79V74.5L399.5 72V68.5V84.5V70.5L400.5 73V69V79L401.5 80.5V70V88V75.5L402.5 77.5V70.5V80.5V74L403.5 80.5V71.5V88V74.5L404.5 73V69.5V84.5V79L405.5 70V84.5V73L406.5 72.5V84.5V75.5L407.5 71.5V80.5L408.5 72V84.5L409.5 77.5V74.5V84.5V74.5L410.5 76.5V71.5V88V72L411.5 77.5V73V82V80.5L412.5 84.5V70V84.5V77.5L413.5 77.5V71.5V82V72.5L414.5 82V72V84.5V82L415.5 75.5V72.5V80.5V75.5L416.5 74V70V84.5V74L417.5 76.5V70V82V70.5L418.5 76.5V70.5V88V80.5L419.5 80.5V74V88V74.5L420.5 74V72V84.5L421.5 79V70V84.5L422.5 84.5V70V84.5V77.5L423.5 79V71.5V88V75.5L424.5 74.5V88V77.5L425.5 82V72V93.5V84.5L426.5 76.5V74.5V88V80.5L427.5 75.5V70.5V82V80.5L428.5 70V84.5V76.5L429.5 70V84.5V75.5L430.5 80.5V70V84.5L431.5 72V88L432.5 77.5V70V84.5V74.5L433.5 79V71.5V84.5V80.5L434.5 74.5V70.5V93.5V74.5L435.5 74V70V88V76.5L436.5 75.5V73V88V77.5L437.5 75.5V74V88V80.5L438.5 76.5V70V88V75.5L439.5 84.5V70V88V77.5L440.5 75.5V72V88V79L441.5 75.5V72.5V84.5V80.5L442.5 72V84.5V80.5L443.5 70V84.5V79L444.5 76.5V71.5V88V74L445.5 77.5V72V84.5V76.5L446.5 76.5V70.5V84.5V79L447.5 73V70V93.5V80.5L448.5 79V74.5V84.5V80.5L449.5 80.5V70.5V84.5V77.5L450.5 74.5V70.5V84.5V76.5L451.5 84.5V70.5V88V76.5L452.5 74.5V72V84.5V76.5L453.5 77.5V70.5V84.5V82L454.5 76.5V70.5V88V72.5L455.5 70.5V84.5V75.5L456.5 84.5V70.5V93.5V76.5L457.5 77.5V72V88V74.5L458.5 74.5V70.5V88V74L459.5 84.5V73V84.5V73L460.5 70.5V84.5V80.5L461.5 75.5V73V93.5L462.5 74.5V72.5V88V72.5L463.5 79V71.5V88V84.5L464.5 79V72V84.5V75.5L465.5 82V70.5V88V84.5L466.5 82V72V88V75.5L467.5 74V70.5V84.5V72.5L468.5 79V72V84.5V80.5L469.5 80.5V70.5V84.5V82L470.5 76.5V74.5V84.5V77.5L471.5 79V70.5V84.5V79L472.5 84.5V70.5V93.5V77.5L473.5 82V73V88V80.5L474.5 76.5V75.5V84.5V76.5L475.5 77.5V73V88V80.5L476.5 80.5V70.5V82V80.5L477.5 74.5V72.5V84.5L478.5 80.5V76.5V88V84.5L479.5 77.5V73V84.5V80.5L480.5 77.5V70.5V82V75.5L481.5 76.5V70.5V93.5V80.5L482.5 80.5V74V88L483.5 75.5V72.5V88V79L484.5 82V71.5V88V74.5L485.5 77.5V72.5V88L486.5 82V70.5V84.5V70.5L487.5 74.5V72.5V84.5V80.5L488.5 73V70.5V82V77.5L489.5 77.5V71.5V88V82L490.5 84.5V72V93.5V74.5L491.5 84.5V74.5V84.5V80.5L492.5 79V72.5V93.5V72.5L493.5 79V74V84.5V77.5L494.5 77.5V73V88V76.5L495.5 76.5V72.5V88V77.5L496.5 84.5V75.5V88V82L497.5 80.5V73V88V82L498.5 82V74V84.5V77.5L499.5 74.5V72.5V88V72.5L500.5 74.5V71.5V88V76.5L501.5 80.5V74.5V84.5V75.5L502.5 75.5V70.5V88V82L503.5 72.5V71.5V88V84.5L504.5 77.5V75.5V82V75.5L505.5 79V72V84.5V72L506.5 80.5V70.5V88V79L507.5 76.5V74.5V84.5L508.5 77.5V72.5V88L509.5 70.5V88V76.5L510.5 84.5V71.5V84.5V79L511.5 77.5V72.5V84.5V79L512.5 74V73V88V74.5L513.5 82V72.5V93.5V80.5L514.5 77.5V71.5V84.5V71.5L515.5 74.5V72.5V84.5V79L516.5 73V70.5V88V75.5L517.5 79V71.5V84.5L518.5 84.5V74.5V84.5V82L519.5 80.5V70.5V93.5V79L520.5 74V73V82V74.5L521.5 74.5V74V84.5V75.5L522.5 79V72V93.5V79L523.5 82V72V84.5V79L524.5 82V71.5V88L525.5 80.5V72.5V82V79L526.5 77.5V72V88V74.5L527.5 74.5V71.5V88V79L528.5 84.5V73V88L529.5 70.5V84.5L530.5 80.5V74V88L531.5 82V72.5V88V76.5L532.5 84.5V70.5V93.5V82L533.5 77.5V72.5V106.5L534.5 106.5L535.5 106.5L536.5 106.5L537.5 106.5L538.5 106.5L539.5 106.5L540.5 106.5L541.5 106.5L542.5 106.5L543.5 106.5L544.5 106.5L545.5 106.5L546.5 106.5L547.5 106.5L548.5 106.5L549.5 106.5L550.5 106.5L551.5 106.5L552.5 106.5L553.5 106.5L554.5 106.5L555.5 106.5L556.5 106.5L557.5 106.5L558.5 106.5L559.5 106.5L560.5 106.5L561.5 106.5L562.5 106.5L563.5 106.5L564.5 106.5L565.5 106.5L566.5 106.5L567.5 106.5L568.5 106.5V77V106.5V77L569.5 77L570.5 77L571.5 77L572.5 77L573.5 77L574.5 80.5V74V88L575.5 76.5V74V88V77.5L576.5 82V73V82V73L577.5 79V70.5V84.5V79L578.5 76.5V88L579.5 72.5V72V93.5V79L580.5 80.5V72V88V77.5L581.5 76.5V70.5V82V77.5L582.5 74.5V73V88V79L583.5 88V74.5V88V74.5L584.5 77.5V72V88V77.5L585.5 75.5V70.5V84.5V80.5L586.5 80.5V72.5V88V82L587.5 74.5V72.5V93.5V76.5L588.5 76.5V70.5V84.5V77.5L589.5 74.5V73V84.5V82L590.5 79V71.5V88V71.5L591.5 75.5V73V93.5L592.5 82V70.5V84.5V80.5L593.5 77.5V70.5V93.5V74.5L594.5 82V72.5V93.5V80.5L595.5 75.5V93.5V82L596.5 70.5V88V77.5L597.5 82V70.5V88V80.5L598.5 84.5V74.5V88V80.5L599.5 79V74V93.5V77.5L600.5 80.5V74V88L601.5 77.5V72V84.5V73L602.5 84.5V70.5V88V80.5L603.5 88V70.5V88V82L604.5 79V72.5V84.5V77.5L605.5 75.5V93.5V80.5L606.5 77.5V70.5V88V84.5L607.5 74.5V93.5V84.5L608.5 80.5V72V88V79L609.5 77.5V70.5V93.5V71.5L610.5 82V74V93.5V82L611.5 88V72V88V77.5L612.5 79V74V88V77.5L613.5 74.5V72.5V88L614.5 84.5V74.5V88V82L615.5 82V74.5V88L616.5 84.5V73V88V79L617.5 82V73V88V80.5L618.5 84.5V72V84.5V72L619.5 72V88V74.5L620.5 74V70.5V84.5V70.5L621.5 82V70.5V88V72L622.5 82V70.5V88V82L623.5 79V72V88V79L624.5 73V72.5V88V84.5L625.5 84.5V70.5V84.5V80.5L626.5 82V70.5V84.5V77.5L627.5 82V74V88V74.5L628.5 73V70.5V88V76.5L629.5 88V74V88V75.5L630.5 76.5V74V88V74.5L631.5 80.5V73V88V84.5L632.5 82V72V88V76.5L633.5 88V74V88L634.5 70.5V88V77.5L635.5 80.5V72.5V88V76.5L636.5 76.5V72V93.5L637.5 74.5V70.5V84.5V79L638.5 77.5V72V88V84.5L639.5 74V71.5V88V77.5L640.5 84.5V71.5V88L641.5 77.5V70.5V82V76.5L642.5 79V72.5V106.5V77.5L643.5 76.5V73V88V79L644.5 75.5V72.5V88V79L645.5 80.5V70.5V88V75.5L646.5 80.5V73V88V73L647.5 77.5V74V93.5V74L648.5 77.5V73V93.5V82L649.5 79V70.5V88V79L650.5 84.5V75.5V88L651.5 73V70.5V88V80.5L652.5 84.5V73V88V80.5L653.5 80.5V73V82V80.5L654.5 84.5V71.5V93.5V75.5L655.5 73V93.5V88L656.5 82V74.5V88V77.5L657.5 76.5V72V93.5V72L658.5 75.5V70.5V84.5V80.5L659.5 82V70.5V88V79L660.5 79V72.5V88V77.5L661.5 75.5V70.5V88L662.5 88V70.5V93.5V79L663.5 82V72V88V77.5L664.5 88V70.5V88V72L665.5 76.5V74V84.5L666.5 75.5V74V93.5V88L667.5 74V72.5V88V82L668.5 82V70.5V88V82L669.5 77.5V72.5V84.5V80.5L670.5 79V72V84.5V77.5L671.5 76L672.5 76L673.5 77.5V73V93.5V82L674.5 74.5V84.5V76.5L675.5 76.5V72.5V88V84.5L676.5 80.5V73V88V84.5L677.5 88V71.5V88V79L678.5 80.5V70.5V84.5V82L679.5 77.5V71.5V93.5V75.5L680.5 84.5V74V84.5V82L681.5 74V72.5V88V80.5L682.5 77.5V70.5V88V82L683.5 82V74.5V88V75.5L684.5 77.5V74V84.5V82"/>
<path d="M73.5 140V137V140V139.5L74.5 140.5V138V140.5V138.5L75.5 137.5V139L76.5 139V137.5V139V138.5L77.5 138.5L78.5 138.5V139.5V138.5L79.5 139V138.5V139V138.5L80.5 139V138.5V139.5L81.5 140V138V140V138L82.5 139V138V139V138L83.5 138.5V139.5V138.5L84.5 138.5V140L85.5 138.5V140V139.5L86.5 139V137V139.5V137L87.5 138.5V139.5V138.5L88.5 137.5V139.5V137.5L89.5 140.5V139V140.5V139.5L90.5 139V139.5L91.5 139V138.5V139L92.5 138V139.5L93.5 139.5V138V139.5V138L94.5 141.5V138.5V141.5V138.5L95.5 139V137.5V140V137.5L96.5 138V138.5L97.5 138.5V136V144.5V137.5L98.5 137V134.5V142L99.5 141V134.5V142V137.5L100.5 139.5V134.5V145.5V140L101.5 140V135V143V140.5L102.5 138.5V135V142.5V141L103.5 137.5V137V145V141L104.5 137V135.5V142V137L105.5 139.5V135V144V139.5L106.5 140.5V135.5V142V137L107.5 139V134V145V134L108.5 141V136.5V142.5V138L109.5 135V142L110.5 138V135.5V140.5V139L111.5 138.5V134.5V141.5V138L112.5 141V134V146L113.5 135V141.5L114.5 138V134V140.5L115.5 136.5V135V142.5V135L116.5 134V142.5V135.5L117.5 138.5V135.5V144V140.5L118.5 137.5V136.5V141V140.5L119.5 138V135.5V146L120.5 137.5V135V139.5V139L121.5 138V136V150.5L122.5 136V141.5V137.5L123.5 137.5V136V143V140.5L124.5 140.5V136V142.5V137.5L125.5 136.5V134.5V142V138.5L126.5 137V134.5V141V138.5L127.5 139V135.5V141.5V140L128.5 139L129.5 139L130.5 139L131.5 139L132.5 137L133.5 137L134.5 137L135.5 137L136.5 137L137.5 139.5V137.5V139.5V137.5L138.5 139V138.5V139L139.5 139.5V137V139.5V139L140.5 138V137.5V138L141.5 139V138.5V139V138.5L142.5 140V137.5V140V137.5L143.5 138V137.5V139V137.5L144.5 138V140.5V139L145.5 138V140L146.5 139V138V139V138.5L147.5 138V139L148.5 140V137.5V140V137.5L149.5 138V138.5L150.5 137.5V140L151.5 138.5V139.5L152.5 138.5V139.5V139L153.5 138V137.5V138V137.5L154.5 140V137.5V140L155.5 137.5V137V138L156.5 140V139.5V140L157.5 137.5V138.5L158.5 139V138.5V139L159.5 140V139V140.5V139L160.5 138V139V138L161.5 139V138V139V138L162.5 139.5V140L163.5 139.5V138.5V139.5V138.5L164.5 138V139L165.5 138.5V137V141.5V137L166.5 138.5V139L167.5 138.5V138V139V138L168.5 138.5V138V138.5V138L169.5 138V139V138.5L170.5 138V140V139L171.5 138L172.5 139L173.5 139.5V138V139.5V138L174.5 138.5V140.5V138.5L175.5 138V139.5V138.5L176.5 138V139.5V138L177.5 139.5V138V139.5V138L178.5 139.5V138V139.5L179.5 138.5V138V138.5V138L180.5 138V137.5V138V137.5L181.5 137.5V138.5L182.5 137.5V139L183.5 138V140L184.5 138.5V137V138.5V137L185.5 139V138V139V138L186.5 138.5L187.5 138.5V138V138.5V138L188.5 138V140V138.5L189.5 140.5V137.5V140.5V138.5L190.5 138V139L191.5 137.5V139.5V137.5L192.5 138V137V140L193.5 139.5V138V139.5V138L194.5 137.5V138.5L195.5 137.5V137V140.5V137L196.5 138.5V137.5V138.5V138L197.5 138.5V137V138.5V137.5L198.5 140.5V138V140.5V140L199.5 137.5V137V138.5V137L200.5 139.5V137.5V139.5V139L201.5 138.5V138V139V138L202.5 138.5V138V138.5L203.5 138.5V140V138.5L204.5 138.5V138V138.5V138L205.5 137V138.5L206.5 138.5V137.5V139V137.5L207.5 139V138V139V138L208.5 140V138V140V138L209.5 138.5L210.5 138.5V138V138.5V138L211.5 138.5V137V140L212.5 139V138.5V139V138.5L213.5 138V137.5V139.5V137.5L214.5 138.5V138V138.5V138L215.5 138.5V137.5V138.5V137.5L216.5 138V139L217.5 138.5V138V139.5L218.5 138.5V140V139L219.5 137.5V139V138L220.5 138.5V137.5V138.5V137.5L221.5 139V138V139V138.5L222.5 138V139V138L223.5 139.5V137.5V139.5V137.5L224.5 138.5V139.5V139L225.5 138.5V138V138.5V138L226.5 140V137.5V140V138.5L227.5 138V140.5L228.5 137.5V139.5L229.5 138.5V137.5V138.5V137.5L230.5 138.5V137.5V138.5L231.5 139.5V138V139.5V138L232.5 138V139.5L233.5 138.5V138V139L234.5 138.5V139L235.5 138.5V137.5V138.5V138L236.5 139V138.5V139V138.5L237.5 138.5V138V139V138L238.5 139.5V137V139.5V137L239.5 139.5V138.5V139.5V138.5L240.5 138.5V138V138.5L241.5 139.5V138V140.5V138L242.5 138.5V137.5V138.5V137.5L243.5 139V137.5V139V138.5L244.5 139V138V139L245.5 138.5V138V138.5L246.5 139.5V139V139.5V139L247.5 137.5V140V139L248.5 138V137.5V138L249.5 138V137.5V139V137.5L250.5 140V136V142V139L251.5 139V136V142.5V141.5L252.5 140V136V146.5L253.5 135V143V142.5L254.5 135V141.5V138L255.5 138.5V135.5V144.5V138.5L256.5 140V136.5V142V138L257.5 138V137V143V137.5L258.5 140.5V136.5V144V142.5L259.5 136.5V144.5V140.5L260.5 139.5V137V144.5V143L261.5 141.5V135V141.5L262.5 137V135.5V141L263.5 138V135V143V135L264.5 138.5V136.5V144.5V139.5L265.5 135V142.5V135L266.5 140.5V137V141.5V140.5L267.5 138V136V141.5V138.5L268.5 139.5V137.5V143V139L269.5 137.5V136.5V144V140L270.5 140.5V135V144.5V138L271.5 136V135V144V138L272.5 138V135V142.5V141.5L273.5 139V135V142.5V139.5L274.5 145.5V136V145.5V137.5L275.5 137V136V143V142.5L276.5 144V136V144V138.5L277.5 138.5V137V145.5V139.5L278.5 142.5V136.5V143.5V141.5L279.5 137.5V136V143V137L280.5 137V146V139.5L281.5 139.5V137.5V145V139L282.5 141.5V135V142.5L283.5 139V137V143V142.5L284.5 137.5V136V142L285.5 138V136V140.5V136.5L286.5 141.5V137V145.5V138L287.5 142V136.5V143V139L288.5 137V135V143.5V141.5L289.5 140V137V141V138.5L290.5 137V141V137L291.5 138L292.5 138L293.5 138L294.5 138L295.5 138L296.5 138L297.5 138L298.5 138L299.5 138L300.5 138L301.5 138V139.5L302.5 137.5V139.5L303.5 140V139V140V139L304.5 139.5V138.5V139.5V138.5L305.5 139.5V138V139.5V138.5L306.5 140V138V140V138L307.5 138V137.5V139L308.5 138V139L309.5 138.5V137.5V138.5V137.5L310.5 138.5V138V139V138L311.5 138.5V139.5V138.5L312.5 138.5L313.5 138.5V139V138.5L314.5 138.5L315.5 139.5V138V139.5V138L316.5 137.5V139L317.5 140V138.5V140V138.5L318.5 139.5V138.5V139.5V139L319.5 138V138.5L320.5 138.5V138V140V138L321.5 138.5V138V140V138L322.5 140.5V134V142.5V139.5L323.5 137.5V135V147.5L324.5 141V135.5V144.5V136.5L325.5 138V134V140.5V134L326.5 139V136.5V143.5V136.5L327.5 136V144V141.5L328.5 138V136.5V143.5V138L329.5 137.5V136.5V144.5V140.5L330.5 136V135.5V140V135.5L331.5 136V134.5V140V136.5L332.5 133.5V131.5V137.5V137L333.5 132V130V136V133L334.5 129.5V128.5V134V129.5L335.5 130V126.5V131.5V128.5L336.5 127V126V129V128.5L337.5 126V125.5V128.5V127L338.5 125V123V127.5V125.5L339.5 124V122.5V125.5V122.5L340.5 123V121.5V124.5V124L341.5 122V120V123.5V121.5L342.5 120V119.5V122V120.5L343.5 118.5V122V119.5L344.5 119V118V121.5V120L345.5 118V121V120.5L346.5 121V119V121.5V119L347.5 120.5V118.5V122V120L348.5 119.5V118.5V122V119L349.5 120V119V121.5V120L350.5 122V119.5V123V122L351.5 120.5V123.5V122.5L352.5 122.5V121.5V125.5V124.5L353.5 124V122V124.5V123L354.5 123V122V126V125.5L355.5 124V122.5V126.5V125.5L356.5 125V124.5V128V126.5L357.5 127V124V127V126L358.5 129V124.5V129V128.5L359.5 126V125V129V128.5L360.5 127.5V125.5V131.5V127L361.5 128.5V126.5V132V128.5L362.5 128.5V127V133L363.5 127V134V127L364.5 128V127.5V131.5V128.5L365.5 129V127.5V134V129.5L366.5 131V128.5V133V132L367.5 132V128V134V128.5L368.5 128V127.5V135V130L369.5 131V128.5V133.5V129L370.5 129V128V133V130L371.5 129.5V128V133L372.5 132V129V134V132L373.5 133V129.5V133V130.5L374.5 132.5V128.5V133V129.5L375.5 131V129.5V138V129.5L376.5 137.5V130V137.5V134.5L377.5 131.5V129V135.5L378.5 131.5V131V135V132.5L379.5 133.5V131V133.5V131L380.5 133.5V129.5V136.5L381.5 133V130.5V137.5V136L382.5 136V131.5V136.5V132L383.5 134V132.5V136.5V132.5L384.5 136V130.5V136V134.5L385.5 137.5V131.5V138V134L386.5 135.5V131.5V137.5L387.5 135.5V132V137.5V134.5L388.5 133V132.5V137V135.5L389.5 132.5V131V140V135L390.5 138V133.5V138.5V133.5L391.5 136V132.5V138V134L392.5 133V132.5V139V137.5L393.5 137.5V131.5V138V134.5L394.5 135.5V131.5V136V135L395.5 136.5V132V137V132L396.5 137.5V132V137.5V137L397.5 136V133V139.5V133.5L398.5 133V141.5V135.5L399.5 136.5V132.5V140V136.5L400.5 134V133V139.5V137L401.5 136V133.5V139.5V134.5L402.5 133.5V139.5V135.5L403.5 134.5V132.5V142.5V139.5L404.5 135.5V133V143V137L405.5 136.5V134V140V137.5L406.5 135V132.5V137.5V136.5L407.5 135.5V134V141L408.5 134.5V132.5V146V136L409.5 136V132.5V139V135.5L410.5 138.5V134V139.5V136.5L411.5 133V142V138.5L412.5 137V135V140V135L413.5 137.5V133V139V138L414.5 136.5V133.5V140.5V136.5L415.5 137V134V142V139L416.5 136.5V133V138.5V136.5L417.5 140.5V134.5V140.5V137.5L418.5 139V134V139V135.5L419.5 135V141V138.5L420.5 135.5V135V140.5V136.5L421.5 136.5V133V142.5V135L422.5 137V134V139V138L423.5 145V133.5V145V135L424.5 135.5V134V143.5V135L425.5 138V134V141V136L426.5 140V134V143V136L427.5 135V140.5V140L428.5 135V140.5V139.5L429.5 137.5V135V142V135L430.5 137.5V135.5V142V135.5L431.5 136V135V139V136.5L432.5 136.5V134V140.5V138.5L433.5 139V133.5V140.5V139L434.5 135V133.5V142V138.5L435.5 139V136V142V137.5L436.5 136.5V135V141V140.5L437.5 134.5V133.5V141V137L438.5 135.5V135V140.5L439.5 136.5V133.5V140V139.5L440.5 139V134.5V141V140L441.5 140V133.5V140.5V136L442.5 138.5V136V141.5V138L443.5 137V134.5V140L444.5 142V134.5V142V140L445.5 137.5V134.5V143.5V139L446.5 133.5V140V134L447.5 136.5V134.5V142L448.5 142.5V134V143.5V138.5L449.5 136.5V135.5V141.5V137.5L450.5 138.5V134V139V136L451.5 139V135V141V135.5L452.5 139.5V134.5V140.5V136L453.5 134V141.5V139L454.5 136V134.5V141V138.5L455.5 136.5V134.5V141L456.5 139.5V134V142L457.5 134V142V138L458.5 136.5V134V143V136L459.5 141.5V135.5V143V135.5L460.5 138.5V135.5V142V139.5L461.5 138.5V135V143V138.5L462.5 142V135.5V148V136L463.5 135.5V134.5V140V137L464.5 138V135V142V135.5L465.5 138.5V135.5V140.5V139L466.5 138.5V135.5V141.5V138L467.5 137.5V134V143.5V139.5L468.5 139.5V136V142.5V136L469.5 136V134.5V141.5V134.5L470.5 136.5V135V139.5V135L471.5 137.5V134.5V141V138L472.5 141V134.5V142.5V139.5L473.5 136.5V134V144V139.5L474.5 138.5V135V141.5V137L475.5 141.5V134V141.5V141L476.5 136.5V134V142V134L477.5 137V134V142.5V137.5L478.5 140V135.5V146L479.5 136V135.5V142.5V137.5L480.5 137.5V135.5V142.5V135.5L481.5 137.5V134.5V141.5V136.5L482.5 137V135.5V141.5V137L483.5 136V134V140V134L484.5 137V135V142.5V139L485.5 136V134V144V136.5L486.5 139V136.5V142V139.5L487.5 139.5V134.5V139.5V139L488.5 141.5V136V142V141L489.5 136.5V134.5V143.5V140L490.5 143.5V134V143.5V136L491.5 143V134V144V138L492.5 138.5V134V142V136L493.5 137.5V136V142V138.5L494.5 136V134V142.5V139L495.5 139V136.5V142.5V139L496.5 141V136V143V138L497.5 138.5V136V141.5L498.5 138.5V135V142.5V141.5L499.5 141V135.5V144V135.5L500.5 134.5V144.5L501.5 135.5V143V139L502.5 138.5V134.5V142V134.5L503.5 138V134V141.5V136L504.5 135.5V135V142.5V141L505.5 141V135.5V146.5V145L506.5 139.5V134V142V136L507.5 135V142V139.5L508.5 138.5V136.5V143.5V136.5L509.5 139V135V142V138.5L510.5 138V136.5V141.5V136.5L511.5 137.5V135V142.5V135L512.5 138V136V140V138.5L513.5 136.5V141.5V140L514.5 140V134.5V141V139L515.5 136.5V143.5V136.5L516.5 135.5V134.5V141.5V137L517.5 135.5V142V137L518.5 139.5V134.5V142.5L519.5 140V135.5V141.5V135.5L520.5 135.5V134.5V142V139.5L521.5 139V138.5V143V142L522.5 138V134.5V145.5V144L523.5 138V135V140.5V139.5L524.5 141V136.5V142.5V137.5L525.5 139.5V135.5V139.5V136.5L526.5 143.5V136.5V143.5V139.5L527.5 138.5V136V142V136L528.5 137V134.5V142V137L529.5 136.5V135.5V140.5V136L530.5 138V135.5V142V139L531.5 140.5V134.5V141V137.5L532.5 140.5V135.5V144.5V137.5L533.5 139.5V134.5V148V137.5L534.5 137.5V139V138L535.5 138V139L536.5 140V138V140L537.5 137.5V141.5V139L538.5 138V137.5V138V137.5L539.5 137.5V138L540.5 138V137.5V138.5V137.5L541.5 139V138V139V138L542.5 138.5V140L543.5 137.5V139L544.5 138.5V138V139.5V138L545.5 138V139.5L546.5 138V139.5V139L547.5 138V139V138L548.5 137.5V139.5L549.5 138.5V138V138.5V138L550.5 139V138V139L551.5 140V137.5V140V139.5L552.5 139V138.5V139V138.5L553.5 138V137.5V138V137.5L554.5 139V138V139V138L555.5 139.5V138V140L556.5 138V138.5L557.5 139V137.5V139V137.5L558.5 138.5V137V138.5L559.5 138V140L560.5 138V139V138L561.5 138.5V139.5L562.5 138V139.5L563.5 139V138V140V138L564.5 139.5V138.5V139.5V138.5L565.5 138V139.5V139L566.5 138V139.5V139L567.5 137.5V138.5L568.5 138.5V138V138.5L569.5 138V137.5V139V137.5L570.5 139V139.5L571.5 139V137.5V139.5V137.5L572.5 138V139.5V138.5L573.5 138.5V138V138.5V138L574.5 137.5V135V143V139L575.5 141V135.5V141V138L576.5 138.5V136.5V142.5V141L577.5 138.5V137V143.5V139L578.5 135.5V135V142.5V142L579.5 140.5V136.5V143V141L580.5 139.5V136V142.5V138L581.5 139.5V137.5V142.5V139.5L582.5 142.5V136V144.5V137.5L583.5 144V137.5V144V137.5L584.5 139V136.5V144L585.5 141.5V135.5V143.5V137.5L586.5 139V144.5V141.5L587.5 145.5V137.5V145.5V143L588.5 138V136V141V139.5L589.5 139.5V136V143V140.5L590.5 140V135.5V141.5V137L591.5 139V136.5V142.5V136.5L592.5 140.5V135.5V141V138L593.5 140.5V137V145.5V144L594.5 142V135V143L595.5 139V135.5V145V139L596.5 137.5V136V141.5V139L597.5 141.5V135.5V142V138L598.5 138V137V142V138.5L599.5 139.5V137V143V139L600.5 141.5V135V142.5L601.5 141V135.5V142V138.5L602.5 141V137V142V140L603.5 139.5V135V143.5V137.5L604.5 140.5V135V144V138.5L605.5 140V136.5V142.5V140.5L606.5 137V136V144V141L607.5 136.5V135V142.5V139.5L608.5 141.5V137V144.5V139L609.5 137V135V143V141L610.5 137.5V135.5V142V138L611.5 139.5V135V143.5V137.5L612.5 138.5V137V143V137L613.5 140.5V135.5V143V139L614.5 141V136V142V141L615.5 142.5V136.5V142.5V141L616.5 139V137V142V138.5L617.5 141V135V143V138L618.5 139V136V140.5V139.5L619.5 142.5V136.5V147.5V142.5L620.5 137V135V142V137.5L621.5 138V136V147.5V139L622.5 139.5V135V141.5V135L623.5 138V136.5V142.5V140L624.5 141.5V135V142V141.5L625.5 138.5V137V143V137L626.5 139.5V136.5V148.5V137.5L627.5 144.5V135V144.5V140L628.5 138.5V135V141.5V140L629.5 140V136V141V140.5L630.5 139V136.5V141.5V138.5L631.5 138.5V136V141.5V138.5L632.5 139V136.5V143.5V136.5L633.5 139V135V142.5V139L634.5 137.5V135V143.5V141L635.5 137.5V135.5V141.5V140L636.5 140V136V142.5V136.5L637.5 138V137V142V138L638.5 140.5V136.5V142.5L639.5 140V137.5V144V137.5L640.5 137V143.5V143L641.5 139.5V135V144V143L642.5 139V136V141V137.5L643.5 139.5V136V141V139.5L644.5 137.5V135.5V142.5V135.5L645.5 143.5V136.5V145.5V136.5L646.5 140V135V143V142L647.5 136V135.5V144V139L648.5 136V135V141V137.5L649.5 142V137.5V144V139.5L650.5 139.5V135V143V136L651.5 140.5V135V144.5V140.5L652.5 138.5V135.5V141.5V138.5L653.5 142V135.5V143V141.5L654.5 140V136V143.5V138L655.5 137.5V136V148.5V139.5L656.5 139.5V137.5V144.5V140.5L657.5 139.5V135.5V142.5V140.5L658.5 140.5V136V143.5V138.5L659.5 138.5V135.5V141.5V135.5L660.5 140.5V137V144V140L661.5 140V135V142.5V136.5L662.5 137V136.5V143L663.5 141.5V136V143V139L664.5 139V136.5V144.5V143.5L665.5 137V145.5V140.5L666.5 143V135V145V136.5L667.5 137V135V142.5V139L668.5 141.5V136V143.5V139L669.5 140.5V136V143V137.5L670.5 141.5V135.5V142.5L671.5 136.5L672.5 136.5L673.5 141.5V136.5V141.5V138.5L674.5 140.5V135.5V143V142L675.5 140.5V135V141L676.5 141V135V143.5V139.5L677.5 138.5V135V141.5V140.5L678.5 135.5V135V142.5V137L679.5 142.5V136.5V142.5V138.5L680.5 136.5V135V142V139L681.5 139V135V140.5V138.5L682.5 137.5V136V141.5L683.5 141.5V136.5V147V138L684.5 138.5V135.5V142V139.5"/>
<path d="M73.5 221.5L74.5 221.5L75.5 221.5L76.5 221.5L77.5 221.5L78.5 221.5L79.5 221.5L80.5 221.5L81.5 221.5L82.5 221.5L83.5 221.5L84.5 221.5L85.5 221.5L86.5 221.5L87.5 221.5L88.5 221.5L89.5 221.5L90.5 221.5L91.5 221.5L92.5 221.5L93.5 221.5L94.5 221.5L95.5 221.5L96.5 221.5L97.5 221.5V186.5V221.5V188.5L98.5 189.5V186.5V190V188L99.5 187.5V187V189.5V188.5L100.5 188V186V189.5V186L101.5 187.5V186V191V186.5L102.5 186V192.5V191L103.5 188.5V187V191.5V189.5L104.5 191V186.5V191V186.5L105.5 189V187V191.5V190L106.5 189V186.5V190V189L107.5 186.5V193V192L108.5 188.5V186.5V192L109.5 188.5V187V191.5V188.5L110.5 191V186.5V192.5V189L111.5 188.5V188V191.5V191L112.5 188.5V187V191.5V190L113.5 192V187V192.5V190L114.5 189V188V191.5V189L115.5 188.5V187V192V190L116.5 191V187V194V188.5L117.5 190V187.5V191.5V189L118.5 191V187V193V188.5L119.5 189V187.5V192.5V187.5L120.5 191V188V192V189.5L121.5 187.5V193.5V190.5L122.5 190.5V190V193.5V190.5L123.5 191V188V192.5V188L124.5 189.5V188V192V191.5L125.5 193.5V187.5V221.5L126.5 221.5L127.5 221.5L128.5 221.5L129.5 221.5L130.5 221.5L131.5 221.5L132.5 221.5L133.5 221.5L134.5 221.5L135.5 221.5L136.5 221.5L137.5 221.5L138.5 221.5L139.5 221.5L140.5 221.5L141.5 221.5L142.5 221.5L143.5 221.5L144.5 221.5L145.5 221.5L146.5 221.5L147.5 221.5L148.5 221.5L149.5 221.5L150.5 221.5L151.5 221.5L152.5 221.5L153.5 221.5L154.5 221.5L155.5 221.5L156.5 221.5L157.5 221.5L158.5 221.5L159.5 221.5L160.5 221.5L161.5 221.5L162.5 221.5L163.5 221.5L164.5 221.5L165.5 221.5L166.5 221.5L167.5 221.5L168.5 221.5L169.5 221.5L170.5 221.5L171.5 221.5L172.5 221.5L173.5 221.5L174.5 221.5L175.5 221.5L176.5 221.5L177.5 221.5L178.5 221.5L179.5 221.5L180.5 221.5L181.5 221.5L182.5 221.5L183.5 221.5L184.5 221.5L185.5 221.5L186.5 221.5L187.5 221.5L188.5 221.5L189.5 221.5L190.5 221.5L191.5 221.5L192.5 221.5L193.5 221.5L194.5 221.5L195.5 221.5L196.5 221.5L197.5 221.5L198.5 221.5L199.5 221.5L200.5 221.5L201.5 221.5L202.5 221.5L203.5 221.5L204.5 221.5L205.5 221.5L206.5 221.5L207.5 221.5L208.5 221.5L209.5 221.5L210.5 221.5L211.5 221.5L212.5 221.5L213.5 221.5L214.5 221.5L215.5 221.5L216.5 221.5L217.5 221.5L218.5 221.5L219.5 221.5L220.5 221.5L221.5 221.5L222.5 221.5L223.5 221.5L224.5 221.5L225.5 221.5L226.5 221.5L227.5 221.5L228.5 221.5L229.5 221.5L230.5 221.5L231.5 221.5L232.5 221.5L233.5 221.5L234.5 221.5L235.5 221.5L236.5 221.5L237.5 221.5L238.5 221.5L239.5 221.5L240.5 221.5L241.5 221.5L242.5 221.5L243.5 221.5L244.5 221.5L245.5 221.5L246.5 221.5L247.5 221.5L248.5 221.5L249.5 221.5L250.5 221.5V187.5V221.5V190L251.5 187.5V193V189L252.5 190.5V187.5V193V192.5L253.5 188.5V187.5V194V192.5L254.5 192.5V187.5V192.5V191L255.5 189.5V187.5V192.5V191L256.5 188.5V187.5V193V189.5L257.5 189.5V187.5V193V188L258.5 190V187.5V192.5V187.5L259.5 192V188.5V192V191L260.5 193V188.5V193.5V189.5L261.5 190.5V188.5V191V188.5L262.5 189V187.5V195V189.5L263.5 193V188.5V193V191L264.5 191.5V189V191.5V189L265.5 189V187.5V193V190L266.5 191V187.5V194V192.5L267.5 191V187.5V191L268.5 190.5V188.5V192.5V190L269.5 191.5V189V193.5V189L270.5 189V188V192.5V190L271.5 190V188V192V188L272.5 188.5V188V192.5V189L273.5 188V191V189.5L274.5 189.5V192.5V190L275.5 193V187.5V193V187.5L276.5 190.5V188.5V192V189.5L277.5 195V187.5V195V190.5L278.5 191.5V188.5V193.5V191.5L279.5 189V188.5V193V189.5L280.5 189V188V192.5V188L281.5 192.5V187.5V193.5V190L282.5 192V188.5V192V191.5L283.5 190V188V193.5V191.5L284.5 191V189V193V191L285.5 190V187.5V192.5V191.5L286.5 193V188.5V193V189.5L287.5 192.5V188V192.5V191L288.5 189.5V193V190.5L289.5 191V189V192V190.5L290.5 189.5V187.5V221.5L291.5 221.5L292.5 221.5L293.5 221.5L294.5 221.5L295.5 221.5L296.5 221.5L297.5 221.5L298.5 221.5L299.5 221.5L300.5 221.5L301.5 221.5L302.5 221.5L303.5 221.5L304.5 221.5L305.5 221.5L306.5 221.5L307.5 221.5L308.5 221.5L309.5 221.5L310.5 221.5L311.5 221.5L312.5 221.5L313.5 221.5L314.5 221.5L315.5 221.5L316.5 221.5L317.5 221.5L318.5 221.5L319.5 221.5L320.5 221.5L321.5 221.5L322.5 221.5V187V221.5V190.5L323.5 188.5V187V192.5V188L324.5 189.5V187V192L325.5 189.5V187V192.5V192L326.5 187V191.5V189L327.5 191.5V187V192.5L328.5 191.5V187V192V190L329.5 186.5V193.5V188.5L330.5 189.5V186V191V189L331.5 187V185.5V191V189L332.5 184V183.5V187.5V184.5L333.5 183.5V181.5V186V184.5L334.5 181.5V179.5V184V179.5L335.5 178.5V182V180.5L336.5 176.5V179V177L337.5 175.5V174.5V176.5V175.5L338.5 173.5V173V175V174.5L339.5 173V171.5V174.5L340.5 173V170V173V171.5L341.5 171V169.5V171.5V171L342.5 170V168.5V170.5V169.5L343.5 167.5V169.5V168L344.5 168.5V167V169.5V167.5L345.5 168V167V169V168.5L346.5 169V167V169.5V169L347.5 169V167.5V169V168L348.5 169V167.5V170V169L349.5 169V168.5V170V169L350.5 170V169V171V170.5L351.5 171.5V169.5V171.5V170.5L352.5 172V171V172.5V172L353.5 172V171.5V173V172.5L354.5 174.5V171.5V174.5V173L355.5 174V172V175.5V172.5L356.5 174.5V172.5V176V173.5L357.5 175.5V173.5V176.5V176L358.5 177V175V177V176.5L359.5 176.5V174.5V177.5V176.5L360.5 176V175.5V178V177.5L361.5 176.5V175.5V179V178L362.5 177V176V178.5V177L363.5 177.5V176V179.5V177.5L364.5 177.5V176V179.5V178L365.5 177.5V177V181V178L366.5 177.5V177V178.5L367.5 179.5V177V180.5V177L368.5 178.5V177V180.5V178.5L369.5 179V177V180L370.5 179V177.5V181L371.5 180.5V178V181.5V180L372.5 179.5V181.5V180L373.5 179V182V179L374.5 179.5V178.5V181.5V180L375.5 181V179V182.5V179.5L376.5 181.5V179V182V180.5L377.5 181.5V179.5V183V181.5L378.5 179.5V183.5V180.5L379.5 181V180V182.5V181.5L380.5 180.5V183V181L381.5 183.5V180.5V183.5V182L382.5 182V180.5V184V183L383.5 183.5V180.5V183.5V181.5L384.5 182.5V182V184.5V182.5L385.5 182.5V182V186.5V183.5L386.5 183V181V184.5V182.5L387.5 184.5V181V185V184L388.5 185.5V182V185.5V183.5L389.5 186.5V182V186.5V184.5L390.5 182.5V181.5V185.5V183L391.5 183.5V182V185.5V184L392.5 185V182V186V183L393.5 186V183V186V184L394.5 182.5V182V186.5V185.5L395.5 185V182.5V186V185L396.5 184V183V187V184.5L397.5 185.5V184V186.5V184.5L398.5 185V184V188V184L399.5 187V184V187V186.5L400.5 185.5V183V187V185.5L401.5 185V183.5V186V183.5L402.5 185V184V187.5V185L403.5 185V184.5V186.5V185L404.5 186V184V186.5V186L405.5 184V183.5V188V186L406.5 184.5V184V187.5V186.5L407.5 184V188V184.5L408.5 187V183.5V188V184L409.5 185V184V188V185.5L410.5 187V184V187L411.5 185.5V183.5V187.5V187L412.5 184.5V183.5V188V183.5L413.5 185.5V184.5V188.5V186L414.5 185V184.5V187.5V185L415.5 185.5V184V187V186.5L416.5 187V184.5V188.5V185L417.5 188.5V184.5V188.5V187.5L418.5 187.5V184V187.5V186.5L419.5 187V184.5V188.5V185L420.5 189V185.5V189V186.5L421.5 185V187.5V185.5L422.5 188V184V189V186L423.5 186V184.5V188.5L424.5 186.5V184V188.5V185L425.5 185.5V185V188.5L426.5 186.5V184V189V185L427.5 185.5V184V189.5V184L428.5 186V184V188.5V185L429.5 187V184V188.5V186.5L430.5 186.5V185.5V190.5V185.5L431.5 187V185.5V188V185.5L432.5 186.5V185.5V190.5L433.5 186.5V185V190V187L434.5 188.5V184.5V189V185.5L435.5 188V185V188.5L436.5 188V184.5V188V186L437.5 186V185V188.5V188L438.5 186.5V185V191V186.5L439.5 185.5V184.5V189.5V187L440.5 187.5V185V190V187.5L441.5 185.5V190V186L442.5 187.5V185V190V188L443.5 188V185V190.5V185L444.5 186.5V185V190V185L445.5 188V185V189.5V186.5L446.5 189.5V186V190.5V188L447.5 185V188.5V186L448.5 190.5V186V190.5V187.5L449.5 187V185V190V188L450.5 187V185V190V189L451.5 187V185V190.5V185.5L452.5 186.5V186V189.5V186.5L453.5 188.5V185.5V190.5V187.5L454.5 185.5V190V189.5L455.5 190V185.5V190V188.5L456.5 185V190.5V188.5L457.5 187V185V190V187.5L458.5 187V185.5V191V187.5L459.5 187.5V186V189.5V187L460.5 187V186V190V187.5L461.5 188.5V185.5V190.5L462.5 189.5V185.5V190V188L463.5 188V187V190.5V187.5L464.5 189V185.5V190V189.5L465.5 189V185.5V190V189L466.5 187.5V186.5V190.5V189L467.5 190.5V186.5V190.5V189.5L468.5 189V185.5V190.5V188L469.5 188V187V189.5V188L470.5 186.5V190.5V189L471.5 187V185.5V190.5V189L472.5 190.5V186.5V190.5V188L473.5 188.5V186V189V188.5L474.5 189.5V186V189.5V187.5L475.5 186.5V191V189L476.5 188.5V185.5V190.5V187L477.5 187.5V186V191V188.5L478.5 188.5V185.5V190V189.5L479.5 189V187V190.5V189.5L480.5 187.5V191.5V187.5L481.5 189.5V187V190.5V190L482.5 190V186V190.5V188L483.5 190.5V187V190.5V187L484.5 189.5V186V190.5V190L485.5 188.5V186V192V188L486.5 189.5V187V190.5V187.5L487.5 187.5V186V191V188.5L488.5 188.5V186.5V192V188.5L489.5 189V186V192V187L490.5 187.5V186V190.5V190L491.5 186V191.5V189L492.5 188.5V186V189.5V188L493.5 187.5V187V190.5V189.5L494.5 187V192V189L495.5 190.5V187V191.5V187.5L496.5 188V187V190.5V187.5L497.5 191V186.5V192V188L498.5 188V186V192V189.5L499.5 189.5V187.5V191V187.5L500.5 190.5V187V192.5V188.5L501.5 189V187V191V190L502.5 189.5V187.5V190V188L503.5 187.5V186.5V191.5V186.5L504.5 187V191L505.5 186.5V190.5L506.5 191V187V191L507.5 189V187V191.5V190L508.5 187.5V187V194V188L509.5 190.5V186.5V192V191L510.5 189V187V191V189L511.5 189V186.5V190.5V188L512.5 189V187V192V189L513.5 188.5V186.5V192V191L514.5 191V186.5V191V187.5L515.5 190.5V188V193.5V190.5L516.5 190V187V191V190.5L517.5 189V187V192V188.5L518.5 189V187V192.5V189.5L519.5 187.5V191V189L520.5 189.5V187V191.5V188L521.5 191V186.5V191V188.5L522.5 189V187.5V192V188.5L523.5 191V187V191V190L524.5 188V187V192.5V190L525.5 188.5V187V191.5V190L526.5 189V186.5V191.5V189L527.5 190.5V187V191V189.5L528.5 188.5V187.5V193V188L529.5 189V186.5V191V188.5L530.5 190.5V187V191.5V190L531.5 189.5V186.5V191V188L532.5 191V188V192V189L533.5 190.5V187V221.5L534.5 221.5L535.5 221.5L536.5 221.5L537.5 221.5L538.5 221.5L539.5 221.5L540.5 221.5L541.5 221.5L542.5 221.5L543.5 221.5L544.5 221.5L545.5 221.5L546.5 221.5L547.5 221.5L548.5 221.5L549.5 221.5L550.5 221.5L551.5 221.5L552.5 221.5L553.5 221.5L554.5 221.5L555.5 221.5L556.5 221.5L557.5 221.5L558.5 221.5L559.5 221.5L560.5 221.5L561.5 221.5L562.5 221.5L563.5 221.5L564.5 221.5L565.5 221.5L566.5 221.5L567.5 221.5L568.5 221.5V189.5V221.5V189.5L569.5 189.5L570.5 189.5L571.5 189.5L572.5 189.5L573.5 189.5L574.5 192V187V192L575.5 188V187V191.5V188.5L576.5 190V187.5V191.5V190.5L577.5 192V188V192.5V191L578.5 187.5V192.5V190L579.5 189.5V188.5V194V189.5L580.5 190V187.5V192V189.5L581.5 189.5V188.5V192V190L582.5 189V188V193V192L583.5 190.5V187.5V193V189.5L584.5 187.5V193V189L585.5 191V188V192.5V191.5L586.5 187.5V193.5V191L587.5 190.5V187V193V188.5L588.5 191V188V191V190.5L589.5 190V188V192V189.5L590.5 191.5V187.5V191.5V189L591.5 191V188.5V191.5V190L592.5 188V187V193V188L593.5 191.5V187.5V193V190.5L594.5 191.5V187V192V190.5L595.5 194V187V194V192L596.5 189V188V191.5V190.5L597.5 189V187V192.5V190.5L598.5 189V187V192L599.5 192.5V189V193V191.5L600.5 187.5V193.5V188L601.5 187V193V188L602.5 188V192V189.5L603.5 188.5V187V194.5V189L604.5 188V187.5V192.5V190L605.5 190V188.5V192V191L606.5 189.5V188V192L607.5 190V187.5V190.5V189L608.5 192.5V187.5V192.5V189L609.5 190.5V187.5V191.5V189.5L610.5 187V192.5L611.5 189V187.5V194V190.5L612.5 189.5V187V192V188.5L613.5 189.5V187V192.5V187L614.5 191.5V187V191.5V190.5L615.5 190.5V188.5V192V190L616.5 191.5V187.5V194V189.5L617.5 192V188V193V192.5L618.5 191V188V192V188L619.5 189V187.5V193V192.5L620.5 190V189V192V191L621.5 189.5V188V192V190.5L622.5 187V192.5V188.5L623.5 191.5V188V194.5V189L624.5 189V187V193V188.5L625.5 190V188V194V188L626.5 187.5V193.5V188L627.5 191V188V193V191.5L628.5 189.5V187V193.5V193L629.5 188.5V187.5V191.5V191L630.5 192.5V188V193V189L631.5 192V187V193V190.5L632.5 191V188V192.5L633.5 189.5V189V191.5V189L634.5 191.5V187V193.5V189L635.5 191V187V193.5V190L636.5 191V187V194.5V188.5L637.5 188.5V187V193L638.5 190.5V187.5V193V188.5L639.5 191.5V187.5V192.5V187.5L640.5 189V188V192.5V192L641.5 190.5V188V192.5V189L642.5 191.5V188V192V190L643.5 190V187.5V194V193L644.5 191.5V188V193V189L645.5 188V187.5V192V190L646.5 190V188V192.5V190L647.5 190V187.5V192.5V189.5L648.5 191V187.5V193V191.5L649.5 188V191.5V191L650.5 192.5V188.5V193.5V188.5L651.5 189.5V188.5V192.5V188.5L652.5 188.5V188V193V189.5L653.5 191.5V188.5V191.5V189.5L654.5 190V187.5V191.5V190L655.5 188.5V187.5V192V191.5L656.5 188.5V187.5V191V189L657.5 189.5V187.5V192V189L658.5 189.5V189V192V190.5L659.5 190V188.5V192V190L660.5 189.5V187.5V192.5L661.5 192V188V193V190.5L662.5 191.5V187.5V192.5V190.5L663.5 190V188.5V192.5V191.5L664.5 190V188V193V190.5L665.5 192.5V187.5V192.5V190.5L666.5 190V187.5V193.5V192.5L667.5 190.5V188.5V193.5V190L668.5 191.5V188V194V192.5L669.5 190.5V188V191V188.5L670.5 188.5V193.5V192.5L671.5 189.5L672.5 189.5L673.5 190V188.5V193V189L674.5 190V187V191.5V190.5L675.5 190.5V188.5V192.5V191.5L676.5 188V191.5V189.5L677.5 190V187V193.5V190L678.5 191V187V191.5V189.5L679.5 189.5V187.5V191.5V190.5L680.5 191V187V191L681.5 187.5V192.5L682.5 192.5V187V193.5V189.5L683.5 190V187V192.5V190.5L684.5 191V188V193.5V191.5"/>
<path d="M73.5 256.5V255V256.5V256L74.5 255.5V256.5L75.5 254.5V256V255L76.5 256V255.5V256.5L77.5 256V256.5L78.5 255.5V256V255.5L79.5 257V255.5V257V255.5L80.5 256.5V254.5V256.5V255.5L81.5 256V255.5V256V255.5L82.5 257V255.5V257V255.5L83.5 255V257V256L84.5 257.5V256.5V257.5V257L85.5 257V255V257V255.5L86.5 256.5V255V256.5L87.5 256V255.5V256L88.5 255.5V256V255.5L89.5 257V255V257V255L90.5 255.5V257V256L91.5 256.5V256V256.5V256L92.5 257.5V256V257.5V256L93.5 256.5V256V258L94.5 255V253V256L95.5 255V251.5V255V254L96.5 251.5V250V253L97.5 251V249V252V250L98.5 253.5V250V253.5V251.5L99.5 251V250.5V255V250.5L100.5 254V253.5V256.5V255L101.5 255V254V259V258L102.5 256.5V254.5V258V256.5L103.5 258V255.5V259V257L104.5 257.5V255V259V256L105.5 256V255V258V256L106.5 255.5V258.5V257L107.5 256V255V258.5V256L108.5 255V253.5V262L109.5 258V254V258.5V254.5L110.5 257V254V258.5V255.5L111.5 256.5V254V258L112.5 258V254V264V257L113.5 257V255.5V260.5V255.5L114.5 255.5V254V257.5L115.5 256V253.5V260.5V253.5L116.5 256V254.5V258V257L117.5 255V259V256L118.5 255V253.5V258.5V254.5L119.5 259V255V259V257L120.5 257V254.5V257.5V257L121.5 257.5V253.5V259V257L122.5 257.5V253.5V258V255.5L123.5 253.5V258V257L124.5 256.5V255V260V259L125.5 256.5V253.5V258.5V255.5L126.5 256L127.5 256L128.5 256L129.5 256L130.5 256L131.5 256L132.5 256V279.5L133.5 279.5L134.5 279.5L135.5 279.5L136.5 279.5L137.5 279.5V255V279.5V255L138.5 255.5V255V255.5L139.5 255V256V255L140.5 256V255V256V255L141.5 255.5V255V255.5L142.5 256V255V256V255L143.5 255.5V255V256.5L144.5 255V256.5V255.5L145.5 257V255.5V257V255.5L146.5 256V257L147.5 256V255.5V256.5V255.5L148.5 256L149.5 255V254.5V256.5L150.5 255.5V256.5V255.5L151.5 256.5V256V256.5V256L152.5 256.5V255V256.5V255L153.5 256.5V255.5V256.5V255.5L154.5 256.5V256V256.5L155.5 255.5V255V256.5V255L156.5 256.5V256V257L157.5 255.5V256L158.5 256V255.5V257L159.5 255V254.5V257L160.5 255.5V256.5V256L161.5 255.5V256.5V256L162.5 255.5V255V256L163.5 255V256.5L164.5 255.5V255V255.5V255L165.5 255.5V257L166.5 255V256L167.5 256.5V255.5V256.5L168.5 256V255.5V256.5L169.5 255.5V257.5L170.5 256V255.5V256V255.5L171.5 256V255.5V256V255.5L172.5 256V255.5V256L173.5 254.5V256L174.5 256V255.5V256V255.5L175.5 256V255.5V256.5L176.5 258V255V258V256.5L177.5 256.5V255.5V256.5V255.5L178.5 255.5V256V255.5L179.5 256V255.5V256L180.5 256V256.5L181.5 257.5V256V257.5V256L182.5 256.5V255.5V256.5L183.5 255V254.5V255.5V254.5L184.5 256.5V255V257L185.5 257V255.5V257V256L186.5 256.5V255.5V256.5V256L187.5 256V255.5V256L188.5 256V255V256V255.5L189.5 255.5V256.5V256L190.5 256.5V255.5V256.5V255.5L191.5 255.5V255V255.5V255L192.5 255V257.5V256L193.5 255.5V256L194.5 256.5V255.5V256.5L195.5 254.5V255V254.5L196.5 256.5V256V256.5V256L197.5 255.5V256V255.5L198.5 255.5V255V256L199.5 256.5V255.5V256.5V256L200.5 256V255.5V256L201.5 256V257.5V256L202.5 255V256V255L203.5 255.5V257L204.5 256.5V255.5V256.5V255.5L205.5 255.5V255V279.5V255L206.5 254.5V255.5V255L207.5 256.5V255.5V256.5V255.5L208.5 255.5V255V256L209.5 255.5V254.5V255.5V255L210.5 256V255.5V256V255.5L211.5 256V255.5V256V255.5L212.5 255.5V254.5V255.5V255L213.5 255.5V254.5V255.5L214.5 257V255.5V257V255.5L215.5 255V256.5V256L216.5 255V256L217.5 256.5V255.5V256.5V255.5L218.5 257.5V254.5V257.5V254.5L219.5 255V256.5V255.5L220.5 257V255V257V256.5L221.5 256V255V256.5L222.5 255.5V256.5L223.5 256.5V255.5V256.5V255.5L224.5 256.5V255.5V258V255.5L225.5 255.5V256.5V255.5L226.5 256.5V255.5V256.5V255.5L227.5 256.5V255.5V256.5V256L228.5 255.5V257.5L229.5 255.5V256.5L230.5 255.5V255V256L231.5 254.5V256L232.5 256V255.5V256V255.5L233.5 255.5V254.5V256L234.5 255.5V255V255.5V255L235.5 256V255.5V256L236.5 255.5V255V256L237.5 254.5V256.5V256L238.5 257.5V256V257.5V256L239.5 255.5V255V255.5L240.5 255V257V255.5L241.5 256V255.5V256.5V255.5L242.5 255V256.5L243.5 256.5V256V256.5V256L244.5 254.5V256.5L245.5 255V256L246.5 256V255.5V256V255.5L247.5 257V255.5V257V255.5L248.5 256.5V256V256.5V256L249.5 255.5V256L250.5 255.5V254V257.5L251.5 256V253.5V259.5V258L252.5 262.5V255V262.5V256.5L253.5 257.5V253.5V260L254.5 257.5V254.5V259V256.5L255.5 254V261V258L256.5 257.5V255V258.5V255.5L257.5 256V258.5V257.5L258.5 257V255V259.5V255.5L259.5 255.5V258.5V258L260.5 256V255V258V256L261.5 258V254.5V258.5V254.5L262.5 257.5V253.5V259V256.5L263.5 256V254V258.5V255L264.5 256.5V254.5V258L265.5 257V254V259L266.5 257.5V254.5V259.5V257L267.5 259V254V259V257L268.5 255.5V255V257.5V255L269.5 257V253.5V258V255.5L270.5 257V254V258L271.5 257.5V254V260.5V257L272.5 256.5V253.5V259.5V255.5L273.5 255.5V254.5V258L274.5 256.5V254.5V258.5V256.5L275.5 259V254.5V259V256.5L276.5 257.5V253.5V258V254L277.5 257V255V260V257L278.5 259V255V260.5V255L279.5 256.5V253.5V260V258.5L280.5 259.5V254V259.5V255.5L281.5 256V255V261V255.5L282.5 256.5V253.5V259.5V254.5L283.5 254V259.5V255.5L284.5 255V253.5V257.5V255.5L285.5 258V254.5V258V257L286.5 257.5V253.5V258V253.5L287.5 254V259.5V256.5L288.5 256V254V257.5V256.5L289.5 255.5V255V258.5V256.5L290.5 258.5V255.5V258.5V257L291.5 256L292.5 256L293.5 256L294.5 256L295.5 256L296.5 256V279.5L297.5 279.5L298.5 279.5L299.5 279.5L300.5 279.5V253.5V279.5V253.5L301.5 254L302.5 254.5L303.5 255.5L304.5 256.5V255.5V256.5L305.5 256.5V255V256.5V255L306.5 256.5V255.5V257V255.5L307.5 255.5V256.5L308.5 255.5V256L309.5 255V256V255L310.5 255V257V256.5L311.5 255.5V255V256V255L312.5 256V254.5V256V254.5L313.5 256V255V256L314.5 256.5V256V257L315.5 255.5V256L316.5 256V256.5L317.5 257V256V257V256L318.5 256.5V256V257L319.5 255V257.5V255L320.5 256.5V256V256.5V256L321.5 256.5V257.5L322.5 256V255.5V256.5V255.5L323.5 255V253V256.5V253L324.5 253V256V253.5L325.5 252.5V253V252.5L326.5 251.5V251V251.5V251L327.5 249.5V251L328.5 249.5V249V249.5V249L329.5 246.5V247.5V247L330.5 241.5V242L331.5 237.5V238V237.5L332.5 236V237L333.5 235V235.5V235L334.5 234.5V235L335.5 234V234.5V234L336.5 234V233V234V233L337.5 232.5L338.5 231.5L339.5 230V230.5L340.5 229.5L341.5 228.5L342.5 228.5V228V228.5L343.5 228.5L344.5 228V228.5V228L345.5 229L346.5 230.5V230V230.5V230L347.5 231.5V232V231.5L348.5 233L349.5 234V234.5L350.5 236V235.5V236V235.5L351.5 237.5V237V237.5L352.5 238L353.5 239V238.5V239V238.5L354.5 240V239.5V240L355.5 242V240.5V242V240.5L356.5 242L357.5 242.5V243.5V243L358.5 243.5V244.5L359.5 244V245V244.5L360.5 244.5V244V244.5L361.5 244.5V245V244.5L362.5 244.5V245.5V245L363.5 244.5V245.5V245L364.5 245.5V244.5V245.5V244.5L365.5 245.5L366.5 246.5V246V246.5V246L367.5 246.5V246V246.5V246L368.5 246.5V247.5V246.5L369.5 246.5L370.5 247.5V248V247.5L371.5 247.5V248.5L372.5 248V250L373.5 249.5V248.5V250V248.5L374.5 250V248.5V250V248.5L375.5 250L376.5 249.5V251L377.5 250V251V250.5L378.5 251.5V250.5V251.5V251L379.5 251.5V251V251.5V251L380.5 251.5V250.5V252V251.5L381.5 253.5V251.5V253.5V251.5L382.5 252V253V252L383.5 252V253V252.5L384.5 252V253.5V252L385.5 252.5V254.5L386.5 253V251.5V253V252.5L387.5 254.5V253V255V253L388.5 254V253.5V255.5V253.5L389.5 254V253V254.5L390.5 255V253V255V254L391.5 254V253.5V255V253.5L392.5 253.5V253V254.5L393.5 253V254L394.5 256V251.5V256V254.5L395.5 253V252V255.5V253L396.5 254V252V254V253.5L397.5 250V249.5V252V250.5L398.5 251.5V249.5V252V251.5L399.5 251V249.5V254.5V253L400.5 252V251V254L401.5 250V253.5V251L402.5 251.5V250.5V252.5L403.5 253.5V251V253.5V251.5L404.5 254V251V254V251L405.5 253V252V256.5L406.5 256V252.5V256V254.5L407.5 254.5V252.5V256.5L408.5 253V252V256V252L409.5 255V252V255.5L410.5 255V253V257L411.5 256.5V253.5V256.5V254L412.5 254.5V252.5V258.5V254L413.5 257V252.5V257L414.5 254.5V254V257V254.5L415.5 255.5V254V259V256.5L416.5 255.5V253V256V255L417.5 254.5V254V258V254L418.5 255V253.5V256V255.5L419.5 253.5V253V257.5V253L420.5 255V253V258V256.5L421.5 259.5V253.5V259.5V255L422.5 254.5V253.5V260.5V256L423.5 257.5V254V257.5V255L424.5 256V253.5V257V255L425.5 255V254V258V256.5L426.5 256.5V253V256.5V254.5L427.5 255.5V254V257.5V256.5L428.5 256V253.5V257L429.5 255V253V258V255L430.5 256V254.5V260V257L431.5 255.5V254V257V254L432.5 255V253V258V255.5L433.5 255.5V253V257.5V254.5L434.5 256.5V254.5V257.5V256.5L435.5 255V254.5V258.5V257L436.5 255.5V253.5V257V255L437.5 257V254.5V257V255.5L438.5 255.5V254V257V255.5L439.5 257.5V253V258.5L440.5 255V254.5V257.5V254.5L441.5 255V253V256.5V255.5L442.5 255V253V256.5V256L443.5 254.5V253.5V257.5V254L444.5 254.5V254V257.5V257L445.5 255.5V253.5V258L446.5 256V254V256V254L447.5 255.5V254V256V254L448.5 257.5V253.5V257.5V255.5L449.5 256.5V254.5V257V256L450.5 256V254V256.5V255.5L451.5 253.5V259V254L452.5 255.5V253.5V259.5V254.5L453.5 255.5V253V258V254.5L454.5 258V253V258V255L455.5 256V253.5V259.5V255.5L456.5 259.5V253V259.5V256.5L457.5 254.5V254V258V255.5L458.5 258V254V258V257L459.5 257V254V257.5V256.5L460.5 256.5V254V258.5V255L461.5 255V253V257V255L462.5 254.5V253.5V257L463.5 258V254V258V256.5L464.5 254V253.5V256.5V253.5L465.5 256.5V253.5V257V253.5L466.5 256V253.5V256V254.5L467.5 257V254V258V257L468.5 257.5V254V257.5V254.5L469.5 255.5V253.5V257.5V253.5L470.5 254.5V253V257V256L471.5 256V254V257.5V254.5L472.5 255.5V253V258V256L473.5 255V254V257L474.5 255.5V254V256.5V254.5L475.5 257V253.5V257V255L476.5 256V253V257V255.5L477.5 253.5V253V257V255.5L478.5 258V253V258V255L479.5 255V254V257V254L480.5 256.5V254V256.5V255L481.5 255V253V259.5V256.5L482.5 255.5V253.5V259V255.5L483.5 257V253V258L484.5 254V258V255L485.5 254V253.5V258V255.5L486.5 256V254.5V258.5V255L487.5 257.5V253.5V258.5V255.5L488.5 253.5V258V257L489.5 255.5V255V258V257L490.5 254.5V254V257V256.5L491.5 255V254V257.5V256.5L492.5 255V253.5V259.5V256L493.5 255.5V253.5V257.5V256.5L494.5 255.5V253V259.5V254.5L495.5 254.5V257.5V256.5L496.5 254V253.5V257L497.5 253V261.5V255L498.5 254V258V257.5L499.5 253.5V253V258V253L500.5 255.5V254V257.5L501.5 255.5V253.5V259.5L502.5 255V254V258V256L503.5 256V253V259.5V254.5L504.5 260V253V260V257L505.5 256.5V254V260V254.5L506.5 255V254.5V259.5V254.5L507.5 256.5V254.5V259L508.5 254.5V260.5V254.5L509.5 254.5V254V257.5V254.5L510.5 256.5V253.5V257.5V254L511.5 254.5V253.5V257V255L512.5 254V253.5V259L513.5 256.5V253V257V253.5L514.5 253V258L515.5 256.5V254V256.5V255L516.5 255V254.5V259.5L517.5 254.5V253.5V257V254L518.5 256.5V254V258.5V256L519.5 255V253.5V258V253.5L520.5 258V253.5V259V258.5L521.5 257.5V254.5V257.5V255.5L522.5 255.5V254V258V254L523.5 256V253.5V257.5V256L524.5 257.5V254V258V256.5L525.5 256V254V259.5V254.5L526.5 256V254.5V259V254.5L527.5 255.5V253.5V258V256L528.5 257V255V258.5V256L529.5 256.5V253V257.5V254L530.5 258.5V254.5V258.5V255L531.5 256V253.5V258V255.5L532.5 255.5V253.5V256L533.5 256.5V254.5V257.5V257L534.5 253.5V260.5V255.5L535.5 254V279.5L536.5 279.5L537.5 279.5V255.5V279.5V255.5L538.5 254.5V256L539.5 257V255.5V257V255.5L540.5 254.5V257V255.5L541.5 255.5V254.5V255.5L542.5 257V256V257V256L543.5 255.5V255V255.5L544.5 256V257.5V256L545.5 256.5V255.5V256.5V255.5L546.5 256.5V254.5V256.5V254.5L547.5 255V256L548.5 256.5V255.5V256.5V256L549.5 256.5V255.5V257L550.5 256.5V254.5V256.5V256L551.5 255V254.5V256V254.5L552.5 257V255V257V256L553.5 254.5V255.5V255L554.5 256.5V255V257V255L555.5 255.5V255V256.5L556.5 255.5V255V255.5V255L557.5 256V255V256V255L558.5 255V254.5V255.5V254.5L559.5 255.5V255V255.5V255L560.5 256.5V255.5V256.5V255.5L561.5 256V255.5V256L562.5 256V255V256V255L563.5 257V255V257V255L564.5 254.5V256L565.5 256.5V254.5V256.5V255L566.5 254.5V257L567.5 257V255V257V255.5L568.5 256V255V256V255.5L569.5 255V256.5L570.5 255.5V256.5V256L571.5 255V254.5V256.5V254.5L572.5 255.5V256L573.5 255V256L574.5 254.5V257V255L575.5 257V254.5V258.5V254.5L576.5 256V255V258V256L577.5 257V253.5V258.5V257L578.5 254.5V254V257.5V257L579.5 255.5V253.5V258V256.5L580.5 259V254.5V259V257L581.5 256V255V257.5V256L582.5 256V254.5V259V255L583.5 258V255V258V255.5L584.5 258V254V258.5V257L585.5 257.5V254.5V259.5V257L586.5 257.5V254V258V255L587.5 258V254.5V258V257.5L588.5 256.5V254V257V256L589.5 257V254V259.5V257.5L590.5 258V253.5V258V256L591.5 255V253.5V258V257.5L592.5 254.5V254V260.5L593.5 256.5V254.5V257.5V257L594.5 256V254.5V259V255.5L595.5 255V252.5V259V252.5L596.5 259V250.5V259V250.5L597.5 254.5V249V260.5V249L598.5 254.5V250V258V250L599.5 260.5V252V260.5V252L600.5 255.5V253.5V258.5V257.5L601.5 255V254.5V259.5L602.5 257V254V259L603.5 254.5V261V255.5L604.5 256.5V254V257.5V256L605.5 255.5V253.5V258V255L606.5 257V253.5V259V258.5L607.5 255.5V262V260.5L608.5 256V255V258L609.5 254V253.5V259V255L610.5 256.5V256V259V256.5L611.5 257V255V257V256.5L612.5 255.5V253.5V259.5V253.5L613.5 258.5V253.5V258.5V255L614.5 257V255V258V255.5L615.5 257.5V255V258.5V256L616.5 256.5V254V257.5V256.5L617.5 258.5V255V258.5V255L618.5 255V254.5V257.5V255.5L619.5 257V255.5V257.5V255.5L620.5 259V255V260V256L621.5 259V254.5V259V258L622.5 257.5V255V259V256.5L623.5 255.5V254V260V256L624.5 254.5V254V258.5V256.5L625.5 256.5V255V258V257L626.5 257V254V257V255.5L627.5 257V254.5V258.5V257.5L628.5 257V253.5V258V255L629.5 254V259.5V256L630.5 256.5V254.5V258.5V257L631.5 256V254.5V258.5L632.5 255.5V255V257.5V256L633.5 256.5V254.5V259V257.5L634.5 255.5V254V259.5V257L635.5 256.5V255V258V257.5L636.5 254.5V254V258.5V255L637.5 258.5V254V258.5V255L638.5 258.5V254V259.5V255.5L639.5 255.5V255V259.5V257.5L640.5 255.5V255V259V255.5L641.5 256.5V255.5V259V256L642.5 257V255.5V258V256.5L643.5 255.5V260.5V258L644.5 257V255.5V260V255.5L645.5 254V258V254.5L646.5 257V255V259.5V255.5L647.5 257V255.5V258V257.5L648.5 257.5V255V261.5V256L649.5 255.5V253.5V259.5V256.5L650.5 258V254V258V257L651.5 256V255V258V255L652.5 257.5V253.5V258V256.5L653.5 258V254.5V258V254.5L654.5 255.5V255V260V256.5L655.5 256.5V253.5V257V254L656.5 255.5V254V257.5V255L657.5 256V254V257.5V257L658.5 259.5V255.5V259.5V256.5L659.5 255.5V254.5V258.5V255.5L660.5 257.5V254.5V259V254.5L661.5 255V260V256.5L662.5 256.5V255V258V256.5L663.5 254.5V258.5V256L664.5 257.5V253.5V258V256.5L665.5 256.5V253.5V258.5V257L666.5 256V254V258.5V257.5L667.5 254V258.5V256.5L668.5 253.5V260.5V258L669.5 254V253.5V259V258L670.5 257.5V253.5V259V258L671.5 255.5L672.5 255.5L673.5 254V258.5V258L674.5 257V254V259.5V257.5L675.5 258.5V254.5V258.5V254.5L676.5 256V254V258V255L677.5 258V253.5V259.5L678.5 256V254V258V256L679.5 256.5V254V257.5V255.5L680.5 258.5V255V258.5V255L681.5 257.5V254.5V258.5V255L682.5 259.5V254.5V259.5V256.5L683.5 255.5V255V259V255L684.5 257.5V255.5V258.5V257.5"/>
<path d="M72.5 300.5H329.5M329.5 293V310M330.5 285V303M357.5 299.5H378.5V309.5H400.5M404.5 299.5H538.5V337.0"/>
<path d="M538.5 509.5V472.5H673.5M684 466.5H673.5V509.5M673.5 475.5H684"/>
</g>
<path class="fl" d="M330.0 296.0 L330.0 285.0 L331.0 285.6 L333.0 286.6 L335.0 285.6 L336.0 283.5 L337.0 281.0 L338.0 279.8 L339.5 279.8 L340.0 281.5 L343.2 281.9 L345.3 283.5 L347.1 286.0 L348.9 289.3 L351.1 292.2 L354.0 293.0 L356.2 294.7 L357.6 296.9 L358.0 297.5 L358.0 337.0 L352.2 337.0 L352.2 314.0 L351.8 310.0 L350.4 309.6 L349.6 306.0 L348.5 300.9 L347.5 298.0 L346.4 293.6 L345.3 290.7 L343.8 287.8 L340.9 287.5 L339.8 286.7 L339.1 284.9 L338.4 284.9 L337.5 287.0 L336.5 290.7 L335.6 294.4 L334.8 293.3 L334.0 293.3 L332.5 294.0 L331.0 295.5 Z M400.0 337.0 L400.0 294.2 L401.0 293.5 L402.0 292.0 L403.0 292.0 L403.3 295.0 L404.0 294.0 L405.0 294.0 L405.0 337.0 Z"/>
<path class="fl" d="M337.0 395.0 L337.0 350.0 L338.0 350.0 L338.0 349.0 L339.0 349.0 L339.0 352.0 L340.0 352.0 L340.0 355.0 L341.0 355.0 L341.0 395.0 Z"/>
<g class="tx">
<text class="d" transform="translate(50.50 56.10) scale(0.800 1)" x="3.75 11.25 18.75">100</text>
<text class="d" transform="translate(56.50 72.10) scale(0.800 1)" x="3.75 11.25">10</text>
<text class="d" transform="translate(62.50 91.10) scale(0.800 1)" x="3.75">1</text>
<text class="d" transform="translate(62.50 104.80) scale(0.800 1)" x="3.75">0</text>
<text class="d" transform="translate(44.50 113.10) scale(0.800 1)" x="3.75 11.25 18.75 26.25">1000</text>
<text class="d" transform="translate(50.50 124.60) scale(0.800 1)" x="3.75 11.25 18.75">100</text>
<text class="d" transform="translate(56.50 139.10) scale(0.800 1)" x="3.75 11.25">10</text>
<text class="d" transform="translate(62.50 153.60) scale(0.800 1)" x="3.75">1</text>
<text class="d" transform="translate(62.50 162.80) scale(0.800 1)" x="3.75">0</text>
<text class="d" transform="translate(44.50 171.10) scale(0.800 1)" x="3.75 11.25 18.75 26.25">1000</text>
<text class="d" transform="translate(50.50 182.35) scale(0.800 1)" x="3.75 11.25 18.75">100</text>
<text class="d" transform="translate(56.50 196.60) scale(0.800 1)" x="3.75 11.25">10</text>
<text class="d" transform="translate(62.50 210.85) scale(0.800 1)" x="3.75">1</text>
<text class="d" transform="translate(62.50 219.80) scale(0.800 1)" x="3.75">0</text>
<text class="d" transform="translate(38.50 228.10) scale(0.800 1)" x="3.75 11.25 18.75 26.25 33.75">10000</text>
<text class="d" transform="translate(44.50 236.70) scale(0.800 1)" x="3.75 11.25 18.75 26.25">1000</text>
<text class="d" transform="translate(50.50 248.30) scale(0.800 1)" x="3.75 11.25 18.75">100</text>
<text class="d" transform="translate(56.50 259.90) scale(0.800 1)" x="3.75 11.25">10</text>
<text class="d" transform="translate(62.50 271.50) scale(0.800 1)" x="3.75">1</text>
<text class="d" transform="translate(62.50 277.80) scale(0.800 1)" x="3.75">0</text>
<text class="d" transform="translate(44.50 286.10) scale(0.800 1)" x="3.75 11.25 18.75 26.25">1000</text>
<text class="d" transform="translate(50.50 297.35) scale(0.800 1)" x="3.75 11.25 18.75">100</text>
<text class="d" transform="translate(56.50 311.60) scale(0.800 1)" x="3.75 11.25">10</text>
<text class="d" transform="translate(62.50 325.85) scale(0.800 1)" x="3.75">1</text>
<text class="d" transform="translate(62.50 334.80) scale(0.800 1)" x="3.75">0</text>
<text class="d" transform="translate(44.50 343.10) scale(0.800 1)" x="3.75 11.25 18.75 26.25">1000</text>
<text class="d" transform="translate(50.50 354.60) scale(0.800 1)" x="3.75 11.25 18.75">100</text>
<text class="d" transform="translate(56.50 369.10) scale(0.800 1)" x="3.75 11.25">10</text>
<text class="d" transform="translate(62.50 383.60) scale(0.800 1)" x="3.75">1</text>
<text class="d" transform="translate(62.50 392.80) scale(0.800 1)" x="3.75">0</text>
<text class="d" transform="translate(62.50 401.10) scale(0.800 1)" x="3.75">0</text>
<text class="d" transform="translate(62.50 407.60) scale(0.800 1)" x="3.75">0</text>
<text class="d" transform="translate(62.50 417.10) scale(0.800 1)" x="3.75">0</text>
<text class="d" transform="translate(62.50 426.60) scale(0.800 1)" x="3.75">0</text>
<text class="d" transform="translate(62.50 436.10) scale(0.800 1)" x="3.75">0</text>
<text class="d" transform="translate(62.50 445.60) scale(0.800 1)" x="3.75">0</text>
<text class="d" transform="translate(62.50 449.80) scale(0.800 1)" x="3.75">0</text>
<text class="d" transform="translate(44.50 458.10) scale(0.800 1)" x="3.75 11.25 18.75 26.25">1000</text>
<text class="d" transform="translate(50.50 469.60) scale(0.800 1)" x="3.75 11.25 18.75">100</text>
<text class="d" transform="translate(56.50 484.10) scale(0.800 1)" x="3.75 11.25">10</text>
<text class="d" transform="translate(62.50 498.60) scale(0.800 1)" x="3.75">1</text>
<text class="d" transform="translate(62.50 507.80) scale(0.800 1)" x="3.75">0</text>
<text class="d" transform="translate(96.40 523.70) scale(0.800 1)" x="3.75 11.25 18.75 26.25 33.75">14:00</text>
<text class="d" transform="translate(151.40 523.70) scale(0.800 1)" x="3.75 11.25 18.75 26.25 33.75">14:30</text>
<text class="d" transform="translate(206.40 523.70) scale(0.800 1)" x="3.75 11.25 18.75 26.25 33.75">15:00</text>
<text class="d" transform="translate(261.40 523.70) scale(0.800 1)" x="3.75 11.25 18.75 26.25 33.75">15:30</text>
<text class="d" transform="translate(316.40 523.70) scale(0.800 1)" x="3.75 11.25 18.75 26.25 33.75">16:00</text>
<text class="d" transform="translate(371.40 523.70) scale(0.800 1)" x="3.75 11.25 18.75 26.25 33.75">16:30</text>
<text class="d" transform="translate(426.40 523.70) scale(0.800 1)" x="3.75 11.25 18.75 26.25 33.75">17:00</text>
<text class="d" transform="translate(481.40 523.70) scale(0.800 1)" x="3.75 11.25 18.75 26.25 33.75">17:30</text>
<text class="d" transform="translate(536.40 523.70) scale(0.800 1)" x="3.75 11.25 18.75 26.25 33.75">18:00</text>
<text class="d" transform="translate(591.40 523.70) scale(0.800 1)" x="3.75 11.25 18.75 26.25 33.75">18:30</text>
<text class="d" transform="translate(646.40 523.70) scale(0.800 1)" x="3.75 11.25 18.75 26.25 33.75">19:00</text>
<text transform="translate(356.00 536.80) scale(0.800 1)" x="3.75 11.25 18.75 26.25 33.75 41.25 48.75">time UT</text>
<text transform="translate(215.50 19.10) scale(0.800 1)" x="3.75 11.25 18.75 26.25 33.75 41.25 48.75 56.25 63.75 71.25 78.75 86.25 93.75 101.25 108.75 116.25 123.75 131.25 138.75 146.25 153.75 161.25 168.75 176.25 183.75 191.25 198.75 206.25 213.75 221.25 228.75 236.25 243.75 251.25 258.75 266.25 273.75 281.25 288.75 296.25 303.75 311.25 318.75 326.25 333.75 341.25">INTERBALL-Tail RF15-I HARD/SOFT X-RAY EMISSION</text>
<text transform="translate(182.50 38.40) scale(0.800 1)" x="3.75 11.25 18.75 26.25 33.75 41.25 48.75 56.25 63.75 71.25 78.75 86.25 93.75 101.25 108.75 116.25 123.75 131.25 138.75 146.25 153.75 161.25 168.75 183.75 191.25 198.75 206.25 213.75 221.25 228.75 236.25 243.75 251.25 258.75 266.25 273.75 281.25 288.75 296.25 303.75 311.25 318.75 326.25 333.75 341.25 348.75 356.25 363.75 371.25 378.75 386.25 393.75 401.25 408.75 416.25 423.75 431.25 438.75">POC 13:50 19:00 980608 COUNT RATE IN CHANNELS s1-s3, h1-h5</text>
<text transform="translate(693.00 82.20) scale(0.800 1)" x="3.75 11.25">s1</text>
<text transform="translate(693.00 142.20) scale(0.800 1)" x="3.75 11.25">s2</text>
<text transform="translate(693.00 197.20) scale(0.800 1)" x="3.75 11.25">s3</text>
<text transform="translate(693.00 252.20) scale(0.800 1)" x="3.75 11.25">h1</text>
<text transform="translate(693.00 312.20) scale(0.800 1)" x="3.75 11.25">h2</text>
<text transform="translate(693.00 372.20) scale(0.800 1)" x="3.75 11.25">h3</text>
<text transform="translate(693.00 432.20) scale(0.800 1)" x="3.75 11.25">h4</text>
<text transform="translate(693.00 482.20) scale(0.800 1)" x="3.75 11.25">h5</text>
</g>
</svg>
</body></html>
